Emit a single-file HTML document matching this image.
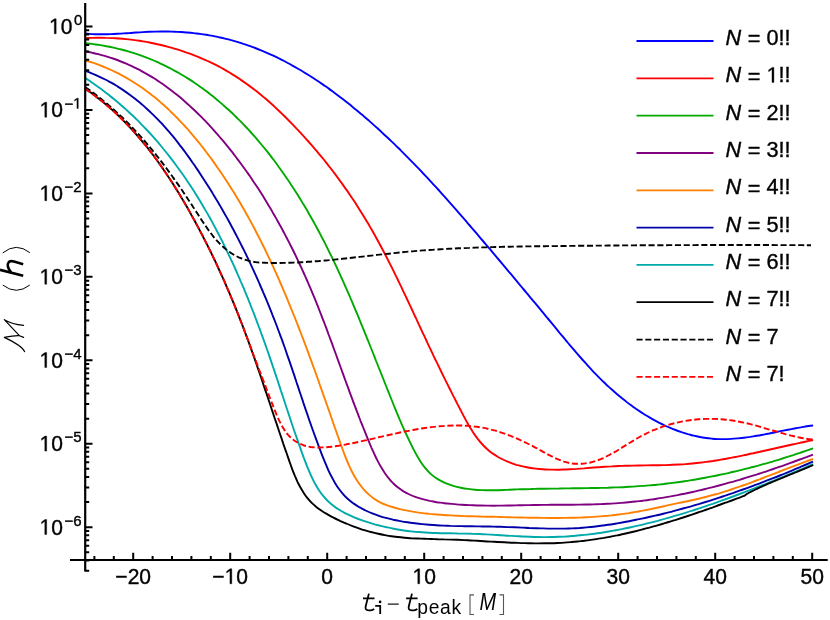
<!DOCTYPE html><html><head><meta charset="utf-8"><style>html,body{margin:0;padding:0;background:#fff}svg{display:block}.o{fill:none;stroke:none}text{font-family:"Liberation Sans",sans-serif;fill:#000;stroke:#000;stroke-width:0.4px}</style></head><body>
<svg width="830" height="620" viewBox="0 0 830 620">
<rect width="830" height="620" fill="#fff"/>
<g fill="none" stroke-width="1.9" stroke-linejoin="round">
<path d="M85.3,33.5C86.4,33.6 89.6,33.9 91.7,34.1C93.8,34.2 96.0,34.3 98.1,34.3C100.2,34.3 102.3,34.3 104.5,34.3C106.6,34.3 108.7,34.2 110.8,34.1C112.9,34.1 115.0,34.0 117.2,33.8C119.3,33.7 121.4,33.6 123.5,33.4C125.6,33.3 127.7,33.1 129.9,33.0C132.0,32.8 134.1,32.7 136.2,32.5C138.3,32.4 140.5,32.3 142.6,32.1C144.7,32.0 146.8,31.9 149.0,31.8C151.1,31.7 153.2,31.6 155.4,31.6C157.5,31.5 159.6,31.5 161.8,31.5C163.9,31.5 166.0,31.5 168.2,31.5C170.3,31.6 172.4,31.6 174.6,31.7C176.7,31.8 178.8,31.9 180.9,32.0C183.1,32.2 185.2,32.3 187.3,32.5C189.4,32.7 191.6,32.9 193.7,33.1C195.8,33.4 197.9,33.6 200.0,33.9C202.1,34.2 204.2,34.5 206.3,34.8C208.4,35.2 210.5,35.5 212.6,35.9C214.7,36.3 216.8,36.7 218.8,37.2C220.9,37.6 223.0,38.1 225.0,38.6C227.1,39.1 229.1,39.6 231.2,40.2C233.2,40.7 235.2,41.3 237.2,41.9C239.3,42.5 241.3,43.1 243.3,43.8C245.3,44.4 247.3,45.1 249.3,45.8C251.2,46.5 253.2,47.3 255.2,48.0C257.1,48.8 259.1,49.6 261.1,50.4C263.0,51.2 265.0,52.0 266.9,52.8C268.8,53.7 270.7,54.6 272.7,55.4C274.6,56.3 276.5,57.2 278.4,58.2C280.3,59.1 282.2,60.1 284.1,61.0C285.9,62.0 287.8,63.0 289.7,64.0C291.5,65.0 293.4,66.1 295.2,67.1C297.1,68.2 298.9,69.2 300.8,70.3C302.6,71.4 304.4,72.5 306.2,73.6C308.1,74.7 309.9,75.9 311.7,77.0C313.5,78.2 315.2,79.4 317.0,80.5C318.8,81.7 320.6,82.9 322.3,84.1C324.1,85.4 325.9,86.6 327.6,87.8C329.4,89.1 331.1,90.3 332.8,91.6C334.6,92.9 336.3,94.1 338.0,95.4C339.7,96.7 341.4,98.0 343.1,99.3C344.8,100.7 346.5,102.0 348.2,103.3C349.9,104.7 351.5,106.0 353.2,107.4C354.9,108.7 356.5,110.1 358.2,111.5C359.8,112.8 361.4,114.2 363.1,115.6C364.7,117.0 366.3,118.4 367.9,119.8C369.5,121.2 371.2,122.6 372.8,124.1C374.3,125.5 375.9,126.9 377.5,128.3C379.1,129.8 380.7,131.2 382.2,132.7C383.8,134.1 385.4,135.6 386.9,137.0C388.5,138.5 390.0,139.9 391.5,141.4C393.1,142.9 394.6,144.3 396.1,145.8C397.6,147.3 399.2,148.8 400.7,150.3C402.2,151.8 403.7,153.3 405.2,154.8C406.7,156.3 408.1,157.8 409.6,159.3C411.1,160.8 412.6,162.3 414.1,163.8C415.5,165.3 417.0,166.9 418.5,168.4C419.9,169.9 421.4,171.5 422.8,173.0C424.3,174.5 425.7,176.1 427.2,177.6C428.6,179.2 430.0,180.7 431.5,182.3C432.9,183.8 434.3,185.4 435.8,186.9C437.2,188.5 438.6,190.0 440.0,191.6C441.4,193.2 442.8,194.8 444.3,196.3C445.7,197.9 447.1,199.5 448.5,201.1C449.9,202.6 451.3,204.2 452.7,205.8C454.1,207.4 455.5,209.0 456.9,210.6C458.2,212.2 459.6,213.8 461.0,215.4C462.4,217.0 463.8,218.6 465.2,220.2C466.6,221.8 467.9,223.4 469.3,225.0C470.7,226.6 472.1,228.2 473.5,229.8C474.8,231.4 476.2,233.0 477.6,234.7C479.0,236.3 480.3,237.9 481.7,239.5C483.1,241.1 484.5,242.8 485.8,244.4C487.2,246.0 488.6,247.6 490.0,249.2C491.3,250.9 492.7,252.5 494.1,254.1C495.5,255.8 496.8,257.4 498.2,259.0C499.6,260.6 501.0,262.3 502.3,263.9C503.7,265.5 505.1,267.2 506.5,268.8C507.8,270.5 509.2,272.1 510.6,273.7C511.9,275.4 513.3,277.0 514.7,278.6C516.1,280.3 517.4,281.9 518.8,283.6C520.2,285.2 521.5,286.8 522.9,288.5C524.3,290.1 525.6,291.7 527.0,293.4C528.4,295.0 529.7,296.7 531.1,298.3C532.5,300.0 533.8,301.6 535.2,303.2C536.6,304.9 537.9,306.5 539.3,308.2C540.6,309.8 542.0,311.4 543.4,313.1C544.7,314.7 546.1,316.4 547.4,318.0C548.8,319.6 550.2,321.3 551.5,322.9C552.9,324.6 554.2,326.2 555.6,327.8C556.9,329.5 558.3,331.1 559.6,332.8C561.0,334.4 562.3,336.0 563.7,337.7C565.0,339.3 566.4,340.9 567.7,342.5C569.1,344.2 570.5,345.8 571.8,347.4C573.2,349.0 574.6,350.6 575.9,352.2C577.3,353.8 578.7,355.4 580.1,357.0C581.5,358.6 582.9,360.2 584.3,361.7C585.7,363.3 587.1,364.9 588.5,366.4C590.0,368.0 591.4,369.5 592.8,371.1C594.3,372.6 595.7,374.1 597.2,375.6C598.7,377.1 600.2,378.6 601.7,380.1C603.2,381.6 604.7,383.0 606.2,384.5C607.8,385.9 609.3,387.4 610.9,388.8C612.5,390.2 614.1,391.6 615.7,393.0C617.3,394.4 618.9,395.8 620.5,397.1C622.2,398.5 623.9,399.8 625.6,401.1C627.2,402.5 629.0,403.8 630.7,405.0C632.4,406.3 634.2,407.5 635.9,408.8C637.7,410.0 639.5,411.2 641.3,412.4C643.1,413.5 644.9,414.7 646.8,415.8C648.6,416.9 650.5,418.0 652.4,419.1C654.2,420.1 656.1,421.1 658.0,422.1C660.0,423.1 661.9,424.1 663.8,425.0C665.7,425.9 667.7,426.8 669.7,427.6C671.6,428.5 673.6,429.3 675.6,430.0C677.6,430.8 679.6,431.5 681.6,432.2C683.6,432.8 685.6,433.5 687.6,434.1C689.7,434.6 691.7,435.2 693.7,435.7C695.8,436.2 697.8,436.6 699.9,437.0C702.0,437.4 704.0,437.7 706.1,438.0C708.2,438.3 710.3,438.5 712.3,438.7C714.4,438.9 716.5,439.0 718.6,439.1C720.7,439.1 722.8,439.2 724.9,439.1C727.0,439.1 729.1,439.0 731.2,438.9C733.3,438.8 735.4,438.6 737.5,438.4C739.6,438.2 741.8,438.0 743.9,437.7C746.0,437.5 748.1,437.2 750.2,436.9C752.3,436.5 754.4,436.2 756.5,435.8C758.7,435.5 760.8,435.1 762.9,434.7C765.0,434.3 767.1,433.9 769.2,433.5C771.3,433.0 773.4,432.6 775.5,432.2C777.6,431.8 779.7,431.4 781.8,430.9C783.9,430.5 786.0,430.1 788.1,429.7C790.2,429.3 792.3,428.9 794.4,428.5C796.4,428.1 798.5,427.7 800.6,427.4C802.7,427.0 804.8,426.7 806.8,426.3C808.9,426.0 812.0,425.6 813.1,425.5" stroke="#0000ff"/>
<path d="M85.4,38.1C86.5,38.1 89.9,37.9 92.1,37.9C94.4,37.8 96.6,37.8 98.9,37.8C101.1,37.8 103.4,37.8 105.6,37.9C107.9,37.9 110.1,38.0 112.4,38.1C114.7,38.2 116.9,38.4 119.2,38.5C121.5,38.7 123.7,38.9 126.0,39.1C128.2,39.3 130.5,39.6 132.8,39.9C135.0,40.2 137.3,40.5 139.5,40.8C141.8,41.2 144.0,41.5 146.3,41.9C148.5,42.3 150.8,42.8 153.0,43.2C155.2,43.7 157.5,44.2 159.7,44.7C161.9,45.2 164.1,45.8 166.3,46.3C168.5,46.9 170.7,47.5 172.9,48.1C175.1,48.8 177.3,49.4 179.5,50.1C181.6,50.8 183.8,51.5 186.0,52.3C188.1,53.0 190.3,53.8 192.4,54.6C194.5,55.4 196.6,56.3 198.7,57.1C200.8,58.0 202.9,58.9 205.0,59.8C207.1,60.7 209.1,61.7 211.2,62.7C213.2,63.7 215.2,64.7 217.3,65.7C219.3,66.8 221.3,67.8 223.2,68.9C225.2,70.0 227.2,71.2 229.1,72.3C231.0,73.5 233.0,74.7 234.9,75.9C236.8,77.1 238.7,78.3 240.5,79.6C242.4,80.9 244.3,82.2 246.1,83.5C247.9,84.8 249.8,86.1 251.6,87.5C253.4,88.9 255.2,90.2 256.9,91.6C258.7,93.1 260.5,94.5 262.2,95.9C263.9,97.4 265.7,98.8 267.4,100.3C269.1,101.8 270.8,103.3 272.5,104.8C274.2,106.4 275.8,107.9 277.5,109.5C279.2,111.0 280.8,112.6 282.4,114.2C284.1,115.7 285.7,117.3 287.3,119.0C288.9,120.6 290.5,122.2 292.1,123.8C293.7,125.5 295.2,127.1 296.8,128.8C298.4,130.4 299.9,132.1 301.5,133.8C303.0,135.4 304.5,137.1 306.0,138.8C307.5,140.5 309.1,142.2 310.5,143.9C312.0,145.6 313.5,147.3 315.0,149.1C316.5,150.8 317.9,152.5 319.4,154.3C320.8,156.0 322.3,157.8 323.7,159.5C325.1,161.3 326.5,163.0 327.9,164.8C329.3,166.6 330.7,168.4 332.1,170.2C333.5,172.0 334.8,173.8 336.2,175.6C337.6,177.4 338.9,179.2 340.2,181.1C341.6,182.9 342.9,184.7 344.2,186.6C345.5,188.4 346.8,190.3 348.1,192.1C349.4,194.0 350.6,195.9 351.9,197.8C353.2,199.6 354.4,201.5 355.7,203.4C356.9,205.3 358.1,207.2 359.3,209.2C360.5,211.1 361.7,213.0 362.9,214.9C364.1,216.9 365.3,218.8 366.4,220.7C367.6,222.7 368.8,224.6 369.9,226.6C371.0,228.6 372.2,230.5 373.3,232.5C374.4,234.5 375.5,236.5 376.6,238.5C377.7,240.5 378.8,242.5 379.9,244.5C380.9,246.5 382.0,248.5 383.1,250.5C384.1,252.5 385.2,254.5 386.2,256.5C387.3,258.6 388.3,260.6 389.3,262.6C390.4,264.7 391.4,266.7 392.4,268.7C393.4,270.8 394.4,272.8 395.4,274.8C396.4,276.9 397.4,278.9 398.4,281.0C399.4,283.0 400.4,285.1 401.4,287.1C402.3,289.2 403.3,291.3 404.3,293.3C405.3,295.4 406.2,297.4 407.2,299.5C408.2,301.5 409.1,303.6 410.1,305.7C411.1,307.7 412.0,309.8 413.0,311.8C413.9,313.9 414.9,315.9 415.9,318.0C416.8,320.1 417.8,322.1 418.7,324.2C419.7,326.2 420.6,328.3 421.6,330.3C422.5,332.4 423.5,334.4 424.5,336.4C425.4,338.5 426.4,340.5 427.3,342.6C428.3,344.6 429.2,346.6 430.2,348.7C431.2,350.7 432.1,352.7 433.1,354.8C434.1,356.8 435.0,358.8 436.0,360.9C437.0,362.9 438.0,364.9 439.0,366.9C439.9,369.0 440.9,371.0 441.9,373.0C442.9,375.0 443.9,377.1 444.9,379.1C445.9,381.1 446.9,383.2 447.9,385.2C448.9,387.2 450.0,389.3 451.0,391.3C452.0,393.3 453.0,395.4 454.1,397.4C455.1,399.5 456.2,401.5 457.2,403.6C458.3,405.6 459.3,407.7 460.4,409.7C461.4,411.8 462.5,413.9 463.6,415.9C464.7,418.0 465.8,420.1 466.9,422.1C468.1,424.1 469.2,426.1 470.4,428.1C471.6,430.1 472.9,432.0 474.1,433.9C475.4,435.8 476.8,437.6 478.1,439.4C479.5,441.2 481.0,442.9 482.5,444.5C484.0,446.2 485.6,447.7 487.3,449.2C488.9,450.7 490.7,452.1 492.5,453.4C494.3,454.6 496.2,455.8 498.1,457.0C500.0,458.1 502.0,459.1 504.0,460.0C506.0,461.0 508.1,461.9 510.1,462.6C512.2,463.4 514.3,464.1 516.4,464.8C518.5,465.4 520.7,465.9 522.8,466.4C525.0,466.9 527.1,467.3 529.3,467.7C531.5,468.1 533.7,468.4 535.9,468.6C538.1,468.9 540.4,469.1 542.6,469.2C544.8,469.4 547.1,469.5 549.4,469.6C551.6,469.6 553.9,469.7 556.2,469.7C558.5,469.7 560.8,469.6 563.1,469.5C565.4,469.5 567.7,469.4 570.0,469.3C572.3,469.2 574.6,469.0 576.9,468.9C579.2,468.7 581.6,468.5 583.9,468.4C586.2,468.2 588.5,468.0 590.8,467.8C593.2,467.7 595.5,467.5 597.8,467.3C600.1,467.1 602.4,467.0 604.7,466.8C607.0,466.6 609.3,466.5 611.6,466.4C613.9,466.2 616.2,466.1 618.5,466.0C620.8,465.9 623.1,465.9 625.3,465.8C627.6,465.7 629.9,465.7 632.1,465.6C634.4,465.6 636.7,465.6 638.9,465.5C641.2,465.5 643.4,465.5 645.7,465.4C647.9,465.4 650.2,465.4 652.4,465.3C654.6,465.3 656.9,465.3 659.1,465.2C661.4,465.2 663.6,465.1 665.8,465.1C668.1,465.0 670.3,464.9 672.5,464.8C674.8,464.7 677.0,464.6 679.2,464.5C681.5,464.4 683.7,464.3 685.9,464.1C688.2,463.9 690.4,463.7 692.7,463.5C694.9,463.3 697.1,463.1 699.4,462.8C701.6,462.5 703.9,462.2 706.1,461.9C708.4,461.6 710.6,461.3 712.9,461.0C715.1,460.6 717.4,460.3 719.6,459.9C721.9,459.5 724.1,459.1 726.4,458.7C728.6,458.3 730.9,457.9 733.1,457.4C735.3,457.0 737.6,456.6 739.8,456.1C742.1,455.6 744.3,455.2 746.6,454.7C748.8,454.2 751.1,453.7 753.3,453.3C755.5,452.8 757.8,452.3 760.0,451.8C762.2,451.3 764.5,450.8 766.7,450.3C768.9,449.8 771.2,449.3 773.4,448.8C775.6,448.3 777.8,447.8 780.0,447.3C782.3,446.8 784.5,446.3 786.7,445.8C788.9,445.3 791.1,444.8 793.3,444.3C795.5,443.8 797.7,443.4 799.9,442.9C802.1,442.4 804.3,442.0 806.4,441.5C808.6,441.1 811.9,440.5 813.0,440.2" stroke="#ff0000"/>
<path d="M84.4,43.1C85.6,43.3 89.3,43.6 91.8,43.9C94.3,44.2 96.7,44.6 99.1,44.9C101.5,45.3 103.9,45.7 106.3,46.2C108.7,46.6 111.1,47.1 113.4,47.6C115.8,48.1 118.1,48.7 120.4,49.3C122.7,49.8 125.0,50.5 127.3,51.1C129.5,51.8 131.8,52.5 134.0,53.2C136.3,53.9 138.5,54.6 140.7,55.4C142.9,56.2 145.1,57.0 147.3,57.9C149.4,58.7 151.6,59.6 153.7,60.5C155.8,61.4 157.9,62.4 160.0,63.3C162.1,64.3 164.2,65.3 166.3,66.3C168.3,67.3 170.4,68.4 172.4,69.5C174.4,70.6 176.5,71.7 178.4,72.8C180.4,73.9 182.4,75.1 184.4,76.3C186.3,77.5 188.3,78.7 190.2,79.9C192.1,81.2 194.1,82.5 195.9,83.7C197.8,85.0 199.7,86.4 201.6,87.7C203.4,89.0 205.3,90.4 207.1,91.8C208.9,93.2 210.8,94.6 212.6,96.0C214.4,97.5 216.1,98.9 217.9,100.4C219.7,101.9 221.4,103.4 223.1,104.9C224.9,106.4 226.6,108.0 228.3,109.5C230.0,111.1 231.7,112.7 233.4,114.3C235.0,115.9 236.7,117.5 238.3,119.1C240.0,120.7 241.6,122.4 243.2,124.1C244.8,125.8 246.4,127.4 248.0,129.2C249.6,130.9 251.1,132.6 252.7,134.3C254.2,136.1 255.8,137.8 257.3,139.6C258.8,141.4 260.3,143.2 261.8,145.0C263.3,146.8 264.8,148.6 266.3,150.4C267.7,152.2 269.2,154.1 270.6,155.9C272.0,157.8 273.5,159.7 274.9,161.5C276.3,163.4 277.7,165.3 279.0,167.2C280.4,169.1 281.8,171.0 283.1,173.0C284.5,174.9 285.8,176.8 287.1,178.8C288.5,180.7 289.8,182.7 291.1,184.7C292.4,186.6 293.7,188.6 294.9,190.6C296.2,192.6 297.5,194.5 298.7,196.5C299.9,198.5 301.2,200.5 302.4,202.6C303.6,204.6 304.8,206.6 306.0,208.6C307.2,210.6 308.4,212.7 309.5,214.7C310.7,216.7 311.8,218.8 313.0,220.8C314.1,222.9 315.3,224.9 316.4,227.0C317.5,229.0 318.6,231.1 319.7,233.1C320.8,235.2 321.8,237.3 322.9,239.3C324.0,241.4 325.0,243.5 326.1,245.6C327.1,247.6 328.2,249.7 329.2,251.8C330.2,253.9 331.3,256.0 332.3,258.1C333.3,260.1 334.3,262.2 335.3,264.3C336.3,266.4 337.2,268.5 338.2,270.6C339.2,272.7 340.2,274.8 341.1,277.0C342.1,279.1 343.0,281.2 344.0,283.3C344.9,285.4 345.8,287.5 346.8,289.7C347.7,291.8 348.6,293.9 349.6,296.0C350.5,298.2 351.4,300.3 352.3,302.4C353.2,304.5 354.1,306.7 355.0,308.8C355.9,311.0 356.8,313.1 357.7,315.2C358.6,317.4 359.5,319.5 360.3,321.7C361.2,323.8 362.1,326.0 363.0,328.1C363.8,330.3 364.7,332.4 365.6,334.6C366.5,336.7 367.3,338.9 368.2,341.0C369.1,343.2 369.9,345.3 370.8,347.5C371.6,349.6 372.5,351.8 373.4,354.0C374.2,356.1 375.1,358.3 375.9,360.5C376.8,362.6 377.7,364.8 378.5,367.0C379.4,369.1 380.2,371.3 381.1,373.5C382.0,375.6 382.8,377.8 383.7,380.0C384.5,382.1 385.4,384.3 386.3,386.5C387.1,388.7 388.0,390.8 388.9,393.0C389.7,395.2 390.6,397.4 391.5,399.5C392.4,401.7 393.3,403.9 394.1,406.1C395.0,408.2 395.9,410.4 396.8,412.6C397.7,414.7 398.6,416.9 399.5,419.1C400.5,421.2 401.4,423.4 402.3,425.6C403.3,427.7 404.2,429.9 405.2,432.0C406.2,434.2 407.2,436.3 408.2,438.4C409.2,440.6 410.2,442.7 411.3,444.8C412.3,446.9 413.4,449.0 414.5,451.1C415.6,453.2 416.7,455.3 417.9,457.3C419.1,459.4 420.3,461.4 421.6,463.3C422.9,465.2 424.3,467.0 425.7,468.7C427.2,470.5 428.7,472.1 430.4,473.6C432.0,475.1 433.8,476.5 435.6,477.7C437.4,479.0 439.4,480.1 441.4,481.1C443.4,482.2 445.4,483.1 447.6,483.9C449.7,484.7 451.9,485.4 454.1,486.1C456.3,486.7 458.6,487.2 460.9,487.7C463.2,488.2 465.5,488.6 467.8,488.9C470.1,489.2 472.5,489.5 474.8,489.7C477.1,489.9 479.5,490.0 481.8,490.1C484.2,490.2 486.5,490.3 488.9,490.3C491.2,490.3 493.5,490.3 495.9,490.2C498.3,490.2 500.6,490.1 503.0,490.0C505.3,489.9 507.7,489.8 510.0,489.7C512.4,489.6 514.7,489.5 517.1,489.4C519.4,489.3 521.8,489.3 524.1,489.2C526.5,489.1 528.8,489.0 531.2,489.0C533.5,488.9 535.8,488.9 538.2,488.8C540.5,488.8 542.9,488.7 545.2,488.7C547.6,488.6 549.9,488.6 552.2,488.6C554.6,488.5 556.9,488.5 559.2,488.5C561.6,488.4 563.9,488.4 566.2,488.4C568.6,488.4 570.9,488.3 573.2,488.3C575.6,488.3 577.9,488.3 580.2,488.2C582.6,488.2 584.9,488.2 587.2,488.1C589.5,488.1 591.9,488.0 594.2,488.0C596.5,488.0 598.8,487.9 601.2,487.9C603.5,487.8 605.8,487.7 608.1,487.7C610.4,487.6 612.8,487.5 615.1,487.4C617.4,487.4 619.7,487.3 622.0,487.2C624.4,487.1 626.7,486.9 629.0,486.8C631.3,486.7 633.6,486.6 635.9,486.4C638.3,486.3 640.6,486.1 642.9,485.9C645.2,485.7 647.5,485.6 649.8,485.4C652.2,485.2 654.5,484.9 656.8,484.7C659.1,484.5 661.4,484.2 663.7,484.0C666.0,483.7 668.3,483.4 670.6,483.1C673.0,482.8 675.3,482.5 677.6,482.2C679.9,481.9 682.2,481.6 684.5,481.2C686.8,480.9 689.1,480.5 691.4,480.1C693.7,479.8 696.0,479.4 698.3,479.0C700.6,478.6 702.9,478.2 705.2,477.7C707.5,477.3 709.8,476.9 712.1,476.4C714.4,476.0 716.6,475.5 718.9,475.0C721.2,474.6 723.5,474.1 725.8,473.6C728.1,473.1 730.3,472.5 732.6,472.0C734.9,471.5 737.2,471.0 739.4,470.4C741.7,469.9 744.0,469.3 746.2,468.7C748.5,468.1 750.7,467.6 753.0,467.0C755.3,466.4 757.5,465.8 759.8,465.1C762.0,464.5 764.3,463.9 766.5,463.3C768.7,462.6 771.0,462.0 773.2,461.3C775.4,460.6 777.7,460.0 779.9,459.3C782.1,458.6 784.4,457.9 786.6,457.2C788.8,456.5 791.0,455.8 793.2,455.1C795.4,454.3 797.6,453.6 799.8,452.9C802.0,452.1 804.2,451.4 806.4,450.6C808.6,449.8 811.9,448.7 813.0,448.3" stroke="#00aa00"/>
<path d="M84.7,51.2C85.9,51.5 89.6,52.1 92.0,52.7C94.4,53.2 96.8,53.7 99.2,54.3C101.5,55.0 103.9,55.6 106.2,56.3C108.5,57.0 110.8,57.7 113.0,58.5C115.3,59.3 117.5,60.1 119.7,61.0C122.0,61.8 124.1,62.7 126.3,63.7C128.5,64.6 130.6,65.6 132.8,66.6C134.9,67.6 137.0,68.7 139.1,69.7C141.1,70.8 143.2,71.9 145.2,73.1C147.3,74.2 149.3,75.4 151.3,76.6C153.3,77.9 155.3,79.1 157.2,80.4C159.2,81.7 161.1,83.0 163.0,84.3C164.9,85.6 166.8,87.0 168.7,88.4C170.6,89.8 172.5,91.2 174.3,92.7C176.1,94.1 177.9,95.6 179.8,97.1C181.6,98.6 183.3,100.1 185.1,101.7C186.9,103.2 188.6,104.8 190.3,106.4C192.1,107.9 193.8,109.6 195.5,111.2C197.2,112.8 198.9,114.5 200.5,116.1C202.2,117.8 203.8,119.5 205.5,121.2C207.1,122.9 208.7,124.6 210.3,126.4C211.9,128.1 213.5,129.9 215.0,131.6C216.6,133.4 218.2,135.2 219.7,137.0C221.2,138.8 222.8,140.6 224.3,142.4C225.8,144.2 227.3,146.0 228.8,147.9C230.3,149.7 231.7,151.6 233.2,153.4C234.6,155.3 236.1,157.2 237.5,159.1C238.9,161.0 240.3,162.9 241.7,164.8C243.1,166.7 244.5,168.6 245.9,170.5C247.3,172.4 248.6,174.4 250.0,176.3C251.3,178.3 252.6,180.2 253.9,182.2C255.3,184.2 256.6,186.2 257.9,188.1C259.2,190.1 260.4,192.1 261.7,194.1C263.0,196.1 264.2,198.1 265.5,200.2C266.7,202.2 267.9,204.2 269.1,206.3C270.4,208.3 271.6,210.3 272.7,212.4C273.9,214.4 275.1,216.5 276.3,218.6C277.4,220.6 278.6,222.7 279.7,224.8C280.9,226.8 282.0,228.9 283.1,231.0C284.2,233.1 285.4,235.2 286.4,237.3C287.5,239.4 288.6,241.5 289.7,243.6C290.8,245.8 291.8,247.9 292.9,250.0C293.9,252.1 295.0,254.2 296.0,256.4C297.0,258.5 298.0,260.6 299.0,262.8C300.0,264.9 301.0,267.1 302.0,269.2C303.0,271.4 304.0,273.5 304.9,275.7C305.9,277.8 306.8,280.0 307.8,282.2C308.7,284.3 309.6,286.5 310.6,288.6C311.5,290.8 312.4,293.0 313.3,295.2C314.2,297.3 315.1,299.5 316.0,301.7C316.8,303.8 317.7,306.0 318.6,308.2C319.4,310.4 320.3,312.6 321.2,314.8C322.0,316.9 322.8,319.1 323.7,321.3C324.5,323.5 325.3,325.7 326.2,327.9C327.0,330.1 327.8,332.3 328.6,334.5C329.5,336.7 330.3,338.9 331.1,341.1C331.9,343.2 332.7,345.4 333.5,347.7C334.3,349.9 335.1,352.1 335.9,354.3C336.7,356.5 337.5,358.7 338.3,360.9C339.1,363.1 339.9,365.3 340.7,367.5C341.5,369.7 342.3,371.9 343.1,374.1C343.9,376.4 344.7,378.6 345.5,380.8C346.3,383.0 347.2,385.2 348.0,387.4C348.8,389.7 349.6,391.9 350.4,394.1C351.2,396.3 352.1,398.6 352.9,400.8C353.7,403.0 354.6,405.2 355.4,407.4C356.2,409.7 357.1,411.9 358.0,414.1C358.8,416.4 359.7,418.6 360.5,420.8C361.4,423.0 362.3,425.3 363.2,427.5C364.1,429.7 365.0,432.0 365.9,434.2C366.8,436.4 367.7,438.7 368.6,440.9C369.5,443.1 370.5,445.4 371.4,447.6C372.4,449.8 373.4,452.0 374.4,454.2C375.4,456.3 376.4,458.5 377.5,460.6C378.6,462.7 379.7,464.8 380.9,466.8C382.1,468.8 383.3,470.8 384.6,472.7C385.9,474.6 387.2,476.4 388.6,478.2C390.1,479.9 391.5,481.6 393.1,483.2C394.7,484.7 396.3,486.2 398.1,487.6C399.8,488.9 401.6,490.2 403.5,491.4C405.4,492.5 407.4,493.6 409.5,494.5C411.6,495.5 413.7,496.3 415.9,497.1C418.1,497.9 420.4,498.6 422.7,499.2C425.0,499.8 427.3,500.4 429.7,500.9C432.1,501.3 434.5,501.8 436.9,502.2C439.3,502.5 441.7,502.9 444.2,503.2C446.6,503.5 449.0,503.7 451.5,503.9C453.9,504.2 456.3,504.4 458.7,504.6C461.1,504.7 463.5,504.9 465.9,505.0C468.3,505.1 470.7,505.2 473.1,505.3C475.5,505.4 477.9,505.5 480.2,505.5C482.6,505.6 485.0,505.6 487.3,505.6C489.7,505.7 492.1,505.7 494.4,505.7C496.8,505.7 499.1,505.6 501.5,505.6C503.8,505.6 506.2,505.6 508.5,505.5C510.9,505.5 513.2,505.4 515.6,505.4C517.9,505.3 520.3,505.3 522.6,505.2C524.9,505.2 527.3,505.1 529.6,505.1C532.0,505.1 534.3,505.0 536.7,505.0C539.0,504.9 541.4,504.9 543.7,504.9C546.1,504.9 548.4,504.8 550.8,504.8C553.1,504.8 555.5,504.8 557.8,504.8C560.2,504.8 562.5,504.8 564.9,504.7C567.3,504.7 569.6,504.7 572.0,504.7C574.3,504.7 576.7,504.7 579.1,504.6C581.4,504.6 583.8,504.6 586.1,504.5C588.5,504.5 590.9,504.4 593.2,504.4C595.6,504.3 597.9,504.2 600.3,504.1C602.7,504.0 605.0,503.9 607.4,503.8C609.7,503.7 612.1,503.6 614.4,503.4C616.8,503.2 619.1,503.1 621.5,502.9C623.8,502.7 626.2,502.5 628.5,502.2C630.9,502.0 633.2,501.8 635.6,501.5C637.9,501.2 640.2,501.0 642.6,500.7C644.9,500.4 647.3,500.1 649.6,499.7C651.9,499.4 654.3,499.1 656.6,498.7C658.9,498.3 661.3,498.0 663.6,497.6C665.9,497.2 668.2,496.8 670.6,496.4C672.9,495.9 675.2,495.5 677.5,495.1C679.8,494.6 682.2,494.1 684.5,493.7C686.8,493.2 689.1,492.7 691.4,492.2C693.7,491.7 696.0,491.2 698.3,490.6C700.6,490.1 702.9,489.6 705.2,489.0C707.5,488.4 709.8,487.9 712.1,487.3C714.4,486.7 716.7,486.1 719.0,485.5C721.2,484.9 723.5,484.3 725.8,483.7C728.1,483.0 730.4,482.4 732.6,481.8C734.9,481.1 737.2,480.4 739.5,479.8C741.7,479.1 744.0,478.4 746.2,477.7C748.5,477.0 750.8,476.3 753.0,475.6C755.3,474.9 757.5,474.2 759.8,473.5C762.0,472.8 764.3,472.0 766.5,471.3C768.7,470.5 771.0,469.8 773.2,469.0C775.4,468.3 777.7,467.5 779.9,466.7C782.1,465.9 784.4,465.2 786.6,464.4C788.8,463.6 791.0,462.8 793.2,462.0C795.4,461.2 797.6,460.4 799.8,459.5C802.0,458.7 804.2,457.9 806.4,457.1C808.6,456.2 811.9,455.0 813.0,454.6" stroke="#800080"/>
<path d="M84.8,60.3C86.0,60.6 89.6,61.7 91.9,62.4C94.3,63.2 96.6,64.0 98.9,64.9C101.2,65.8 103.4,66.7 105.7,67.6C107.9,68.5 110.1,69.5 112.3,70.5C114.5,71.6 116.6,72.6 118.8,73.7C120.9,74.8 123.0,76.0 125.1,77.1C127.2,78.3 129.2,79.5 131.2,80.7C133.3,82.0 135.3,83.2 137.2,84.5C139.2,85.8 141.2,87.2 143.1,88.5C145.0,89.9 146.9,91.3 148.8,92.7C150.7,94.2 152.5,95.6 154.4,97.1C156.2,98.6 158.0,100.1 159.8,101.6C161.6,103.2 163.4,104.7 165.1,106.3C166.9,107.9 168.6,109.5 170.3,111.2C172.0,112.8 173.7,114.5 175.4,116.2C177.1,117.8 178.7,119.5 180.3,121.3C182.0,123.0 183.6,124.7 185.2,126.5C186.8,128.3 188.4,130.0 189.9,131.8C191.5,133.6 193.0,135.5 194.5,137.3C196.1,139.1 197.6,141.0 199.1,142.8C200.5,144.7 202.0,146.6 203.5,148.4C204.9,150.3 206.4,152.2 207.8,154.1C209.2,156.0 210.7,158.0 212.1,159.9C213.5,161.8 214.9,163.8 216.2,165.7C217.6,167.7 219.0,169.6 220.3,171.6C221.6,173.6 223.0,175.5 224.3,177.5C225.6,179.5 226.9,181.5 228.2,183.5C229.5,185.5 230.8,187.6 232.0,189.6C233.3,191.6 234.6,193.6 235.8,195.7C237.0,197.7 238.3,199.8 239.5,201.8C240.7,203.9 241.9,205.9 243.1,208.0C244.3,210.1 245.5,212.2 246.6,214.2C247.8,216.3 248.9,218.4 250.1,220.5C251.2,222.6 252.4,224.7 253.5,226.8C254.6,229.0 255.7,231.1 256.8,233.2C257.9,235.3 259.0,237.4 260.1,239.6C261.2,241.7 262.2,243.9 263.3,246.0C264.4,248.1 265.4,250.3 266.4,252.4C267.5,254.6 268.5,256.8 269.5,258.9C270.5,261.1 271.6,263.2 272.6,265.4C273.6,267.6 274.5,269.8 275.5,271.9C276.5,274.1 277.5,276.3 278.5,278.5C279.4,280.7 280.4,282.8 281.3,285.0C282.3,287.2 283.2,289.4 284.1,291.6C285.1,293.8 286.0,296.0 286.9,298.2C287.8,300.4 288.7,302.6 289.6,304.8C290.5,307.0 291.4,309.2 292.3,311.4C293.2,313.6 294.1,315.8 295.0,318.0C295.8,320.2 296.7,322.4 297.6,324.6C298.4,326.8 299.3,329.0 300.1,331.2C301.0,333.4 301.8,335.6 302.7,337.8C303.5,340.0 304.4,342.2 305.2,344.5C306.0,346.7 306.8,348.9 307.7,351.1C308.5,353.3 309.3,355.5 310.1,357.8C310.9,360.0 311.7,362.2 312.5,364.4C313.3,366.6 314.2,368.9 315.0,371.1C315.8,373.3 316.6,375.6 317.4,377.8C318.2,380.0 319.0,382.3 319.7,384.5C320.5,386.7 321.3,389.0 322.1,391.2C322.9,393.5 323.7,395.7 324.5,398.0C325.3,400.2 326.1,402.5 326.9,404.7C327.7,407.0 328.5,409.3 329.3,411.5C330.1,413.8 330.8,416.1 331.6,418.3C332.4,420.6 333.2,422.9 334.0,425.2C334.8,427.4 335.6,429.7 336.4,432.0C337.2,434.3 338.0,436.6 338.9,438.9C339.7,441.2 340.5,443.5 341.3,445.8C342.1,448.1 343.0,450.4 343.8,452.7C344.7,455.0 345.5,457.2 346.5,459.5C347.4,461.7 348.3,463.9 349.3,466.1C350.3,468.3 351.3,470.4 352.4,472.5C353.5,474.6 354.6,476.6 355.8,478.6C357.0,480.6 358.3,482.5 359.6,484.3C361.0,486.2 362.4,487.9 363.9,489.6C365.4,491.3 367.0,492.9 368.7,494.4C370.4,495.9 372.2,497.4 374.1,498.7C376.0,500.0 378.0,501.2 380.1,502.3C382.2,503.3 384.4,504.3 386.7,505.2C389.0,506.1 391.5,506.8 393.9,507.5C396.3,508.2 398.8,508.8 401.2,509.4C403.7,510.0 406.1,510.4 408.5,510.9C411.0,511.3 413.4,511.7 415.7,512.1C418.1,512.5 420.4,512.8 422.7,513.1C425.1,513.4 427.4,513.6 429.7,513.9C432.0,514.1 434.3,514.3 436.6,514.5C438.9,514.7 441.2,514.9 443.6,515.0C445.9,515.2 448.2,515.3 450.6,515.4C452.9,515.6 455.3,515.7 457.6,515.8C460.0,515.9 462.4,516.0 464.7,516.1C467.1,516.2 469.5,516.2 471.9,516.3C474.3,516.4 476.6,516.4 479.0,516.5C481.4,516.6 483.8,516.6 486.2,516.7C488.6,516.7 491.0,516.8 493.4,516.8C495.8,516.9 498.2,516.9 500.5,517.0C502.9,517.1 505.3,517.1 507.7,517.2C510.1,517.2 512.5,517.3 514.9,517.4C517.3,517.4 519.7,517.5 522.1,517.5C524.5,517.6 526.8,517.6 529.2,517.7C531.6,517.7 534.0,517.8 536.4,517.8C538.8,517.9 541.1,517.9 543.5,517.9C545.9,518.0 548.3,518.0 550.7,518.0C553.1,518.0 555.4,518.0 557.8,518.0C560.2,518.0 562.6,518.0 565.0,517.9C567.3,517.9 569.7,517.9 572.1,517.8C574.5,517.8 576.8,517.7 579.2,517.6C581.6,517.5 583.9,517.4 586.3,517.3C588.7,517.2 591.1,517.1 593.4,516.9C595.8,516.8 598.2,516.6 600.5,516.4C602.9,516.2 605.3,516.0 607.6,515.8C610.0,515.5 612.3,515.3 614.7,515.0C617.1,514.7 619.4,514.4 621.8,514.1C624.1,513.8 626.5,513.4 628.8,513.1C631.2,512.7 633.5,512.3 635.9,511.9C638.2,511.5 640.6,511.0 642.9,510.6C645.3,510.1 647.6,509.6 650.0,509.2C652.3,508.7 654.7,508.2 657.0,507.7C659.3,507.2 661.7,506.7 664.0,506.2C666.3,505.7 668.7,505.1 671.0,504.6C673.3,504.1 675.6,503.6 677.9,503.1C680.2,502.7 682.6,502.2 684.9,501.7C687.2,501.2 689.5,500.8 691.8,500.3C694.1,499.8 696.3,499.2 698.6,498.7C700.9,498.2 703.2,497.6 705.5,497.0C707.8,496.4 710.1,495.8 712.3,495.2C714.6,494.6 716.9,493.9 719.2,493.3C721.4,492.6 723.7,491.9 726.0,491.2C728.2,490.5 730.5,489.8 732.7,489.0C735.0,488.3 737.2,487.5 739.5,486.7C741.7,485.9 744.0,485.1 746.2,484.3C748.5,483.5 750.7,482.7 753.0,481.8C755.2,481.0 757.4,480.1 759.7,479.3C761.9,478.4 764.2,477.6 766.4,476.7C768.6,475.9 770.8,475.0 773.1,474.1C775.3,473.3 777.5,472.4 779.8,471.5C782.0,470.6 784.2,469.8 786.4,468.9C788.7,468.1 790.9,467.2 793.1,466.3C795.3,465.5 797.6,464.6 799.8,463.8C802.0,463.0 804.2,462.2 806.4,461.3C808.7,460.5 812.0,459.4 813.1,459.0" stroke="#ff8000"/>
<path d="M84.8,70.6C86.0,71.0 89.5,72.3 91.8,73.3C94.1,74.2 96.4,75.2 98.6,76.3C100.9,77.3 103.1,78.4 105.2,79.5C107.4,80.6 109.5,81.8 111.6,82.9C113.7,84.1 115.8,85.4 117.8,86.6C119.9,87.9 121.9,89.2 123.9,90.6C125.8,91.9 127.8,93.3 129.7,94.7C131.6,96.1 133.5,97.5 135.4,99.0C137.2,100.5 139.1,102.0 140.9,103.5C142.7,105.1 144.5,106.6 146.2,108.2C148.0,109.8 149.7,111.4 151.4,113.1C153.1,114.7 154.8,116.4 156.5,118.1C158.1,119.8 159.8,121.5 161.4,123.2C163.0,125.0 164.6,126.7 166.2,128.5C167.7,130.3 169.3,132.1 170.8,133.9C172.4,135.7 173.9,137.6 175.4,139.4C176.9,141.3 178.4,143.2 179.8,145.1C181.3,147.0 182.7,148.9 184.2,150.8C185.6,152.7 187.0,154.7 188.4,156.6C189.8,158.5 191.2,160.5 192.5,162.5C193.9,164.4 195.3,166.4 196.6,168.4C198.0,170.4 199.3,172.4 200.6,174.4C201.9,176.4 203.2,178.4 204.5,180.4C205.8,182.4 207.1,184.5 208.4,186.5C209.7,188.5 210.9,190.6 212.2,192.6C213.4,194.7 214.7,196.7 215.9,198.8C217.1,200.8 218.4,202.9 219.6,204.9C220.8,207.0 222.0,209.1 223.2,211.2C224.3,213.2 225.5,215.3 226.7,217.4C227.9,219.5 229.0,221.6 230.2,223.7C231.3,225.8 232.4,227.9 233.6,230.0C234.7,232.1 235.8,234.3 236.9,236.4C238.0,238.5 239.1,240.6 240.2,242.8C241.3,244.9 242.3,247.0 243.4,249.2C244.5,251.3 245.5,253.5 246.6,255.6C247.6,257.8 248.6,259.9 249.7,262.1C250.7,264.3 251.7,266.4 252.7,268.6C253.7,270.8 254.7,273.0 255.7,275.1C256.7,277.3 257.7,279.5 258.6,281.7C259.6,283.9 260.5,286.1 261.5,288.3C262.4,290.5 263.4,292.7 264.3,294.9C265.2,297.1 266.2,299.3 267.1,301.5C268.0,303.7 268.9,305.9 269.8,308.1C270.7,310.3 271.6,312.6 272.4,314.8C273.3,317.0 274.2,319.2 275.1,321.5C275.9,323.7 276.8,325.9 277.6,328.2C278.4,330.4 279.3,332.6 280.1,334.9C280.9,337.1 281.8,339.3 282.6,341.6C283.4,343.8 284.2,346.1 285.0,348.3C285.8,350.6 286.5,352.8 287.3,355.1C288.1,357.3 288.9,359.6 289.7,361.9C290.4,364.1 291.2,366.4 292.0,368.6C292.7,370.9 293.5,373.2 294.3,375.4C295.0,377.7 295.8,380.0 296.5,382.2C297.3,384.5 298.0,386.8 298.8,389.0C299.5,391.3 300.3,393.6 301.1,395.8C301.8,398.1 302.6,400.4 303.3,402.6C304.1,404.9 304.9,407.2 305.6,409.4C306.4,411.7 307.2,414.0 308.0,416.2C308.7,418.5 309.5,420.8 310.3,423.0C311.1,425.3 311.9,427.6 312.7,429.8C313.5,432.1 314.3,434.4 315.2,436.6C316.0,438.9 316.8,441.1 317.7,443.4C318.5,445.7 319.3,447.9 320.2,450.2C321.1,452.4 321.9,454.7 322.8,456.9C323.7,459.2 324.6,461.4 325.6,463.7C326.5,465.9 327.4,468.1 328.4,470.3C329.4,472.5 330.5,474.6 331.6,476.7C332.6,478.8 333.8,480.9 335.0,482.9C336.2,484.9 337.5,486.9 338.8,488.7C340.2,490.6 341.6,492.4 343.1,494.1C344.6,495.9 346.2,497.5 347.9,499.0C349.7,500.6 351.5,502.0 353.4,503.4C355.3,504.7 357.3,506.0 359.3,507.2C361.3,508.3 363.5,509.4 365.6,510.5C367.8,511.5 370.0,512.5 372.2,513.3C374.4,514.2 376.7,515.0 379.0,515.8C381.3,516.6 383.6,517.3 386.0,517.9C388.3,518.5 390.7,519.1 393.1,519.7C395.5,520.2 397.9,520.7 400.3,521.1C402.7,521.6 405.1,522.0 407.5,522.3C410.0,522.7 412.4,523.0 414.8,523.3C417.2,523.6 419.6,523.9 422.1,524.1C424.5,524.3 426.9,524.5 429.3,524.7C431.7,524.9 434.1,525.1 436.4,525.2C438.8,525.4 441.2,525.5 443.6,525.6C446.0,525.7 448.3,525.8 450.7,525.9C453.1,525.9 455.5,526.0 457.8,526.1C460.2,526.1 462.6,526.2 464.9,526.2C467.3,526.2 469.6,526.3 472.0,526.3C474.4,526.3 476.7,526.4 479.1,526.4C481.5,526.4 483.8,526.5 486.2,526.5C488.6,526.5 490.9,526.6 493.3,526.6C495.7,526.7 498.0,526.7 500.4,526.8C502.8,526.9 505.2,527.0 507.5,527.1C509.9,527.1 512.3,527.2 514.7,527.3C517.1,527.4 519.5,527.5 521.9,527.6C524.3,527.7 526.7,527.9 529.1,528.0C531.5,528.0 533.9,528.1 536.3,528.2C538.7,528.3 541.1,528.4 543.5,528.4C545.9,528.5 548.3,528.6 550.7,528.6C553.1,528.6 555.5,528.6 557.9,528.6C560.3,528.6 562.7,528.6 565.1,528.6C567.4,528.5 569.8,528.5 572.2,528.4C574.6,528.3 577.0,528.1 579.4,528.0C581.8,527.8 584.2,527.6 586.6,527.4C589.0,527.2 591.3,527.0 593.7,526.7C596.1,526.4 598.5,526.1 600.8,525.8C603.2,525.5 605.6,525.2 608.0,524.8C610.3,524.5 612.7,524.1 615.1,523.7C617.4,523.3 619.8,522.9 622.1,522.5C624.5,522.1 626.8,521.7 629.2,521.2C631.5,520.8 633.9,520.3 636.2,519.8C638.6,519.3 640.9,518.9 643.2,518.4C645.6,517.9 647.9,517.3 650.2,516.8C652.6,516.3 654.9,515.8 657.2,515.2C659.5,514.7 661.9,514.1 664.2,513.5C666.5,512.9 668.8,512.4 671.1,511.8C673.4,511.2 675.7,510.6 678.0,509.9C680.3,509.3 682.6,508.7 684.9,508.0C687.2,507.4 689.5,506.7 691.8,506.1C694.1,505.4 696.4,504.7 698.7,504.1C701.0,503.4 703.3,502.7 705.5,502.0C707.8,501.3 710.1,500.6 712.4,499.8C714.6,499.1 716.9,498.4 719.2,497.6C721.5,496.9 723.7,496.1 726.0,495.4C728.2,494.6 730.5,493.8 732.8,493.1C735.0,492.3 737.3,491.5 739.5,490.7C741.8,489.9 744.0,489.1 746.3,488.3C748.5,487.5 750.8,486.6 753.0,485.8C755.3,485.0 757.5,484.1 759.7,483.3C762.0,482.4 764.2,481.6 766.4,480.7C768.7,479.9 770.9,479.0 773.1,478.1C775.3,477.3 777.6,476.4 779.8,475.5C782.0,474.6 784.2,473.7 786.5,472.8C788.7,471.9 790.9,471.0 793.1,470.1C795.3,469.2 797.5,468.2 799.7,467.3C801.9,466.4 804.1,465.4 806.3,464.5C808.6,463.6 811.9,462.2 813.0,461.7" stroke="#0000aa"/>
<path d="M85.8,78.4C86.8,79.1 89.9,81.1 91.9,82.5C93.9,83.9 95.9,85.3 97.9,86.7C99.8,88.1 101.8,89.6 103.7,91.0C105.6,92.5 107.6,94.0 109.5,95.5C111.3,97.0 113.2,98.5 115.1,100.0C116.9,101.5 118.8,103.1 120.6,104.7C122.4,106.2 124.2,107.8 126.0,109.4C127.7,111.0 129.5,112.6 131.2,114.3C133.0,115.9 134.7,117.6 136.4,119.2C138.1,120.9 139.8,122.6 141.4,124.3C143.1,126.0 144.8,127.7 146.4,129.5C148.0,131.2 149.6,132.9 151.2,134.7C152.8,136.5 154.4,138.3 156.0,140.0C157.5,141.8 159.1,143.6 160.6,145.5C162.1,147.3 163.6,149.1 165.1,151.0C166.6,152.8 168.1,154.7 169.6,156.6C171.0,158.4 172.5,160.3 173.9,162.2C175.3,164.1 176.7,166.0 178.1,168.0C179.5,169.9 180.9,171.8 182.3,173.8C183.7,175.7 185.0,177.7 186.4,179.7C187.7,181.6 189.0,183.6 190.3,185.6C191.6,187.6 192.9,189.6 194.2,191.6C195.5,193.7 196.8,195.7 198.0,197.7C199.3,199.8 200.5,201.8 201.8,203.9C203.0,205.9 204.2,208.0 205.4,210.1C206.6,212.1 207.8,214.2 209.0,216.3C210.1,218.4 211.3,220.5 212.5,222.6C213.6,224.7 214.7,226.8 215.9,229.0C217.0,231.1 218.1,233.2 219.2,235.4C220.3,237.5 221.4,239.7 222.5,241.8C223.6,244.0 224.6,246.1 225.7,248.3C226.7,250.5 227.8,252.6 228.8,254.8C229.8,257.0 230.9,259.2 231.9,261.4C232.9,263.6 233.9,265.8 234.9,268.0C235.9,270.2 236.9,272.4 237.8,274.6C238.8,276.8 239.8,279.0 240.7,281.3C241.7,283.5 242.6,285.7 243.6,287.9C244.5,290.2 245.4,292.4 246.3,294.6C247.3,296.9 248.2,299.1 249.1,301.4C250.0,303.6 250.8,305.9 251.7,308.1C252.6,310.4 253.5,312.6 254.4,314.9C255.2,317.1 256.1,319.4 256.9,321.6C257.8,323.9 258.6,326.2 259.5,328.4C260.3,330.7 261.1,332.9 261.9,335.2C262.8,337.5 263.6,339.7 264.4,342.0C265.2,344.3 266.0,346.5 266.8,348.8C267.6,351.0 268.4,353.3 269.2,355.6C269.9,357.8 270.7,360.1 271.5,362.4C272.3,364.6 273.0,366.9 273.8,369.1C274.5,371.4 275.3,373.7 276.1,375.9C276.8,378.2 277.6,380.4 278.3,382.7C279.0,384.9 279.8,387.2 280.5,389.5C281.3,391.7 282.0,394.0 282.8,396.2C283.5,398.5 284.2,400.7 285.0,403.0C285.7,405.2 286.5,407.5 287.2,409.8C288.0,412.0 288.7,414.3 289.5,416.5C290.2,418.8 291.0,421.1 291.7,423.3C292.5,425.6 293.3,427.8 294.0,430.1C294.8,432.4 295.6,434.6 296.4,436.9C297.2,439.2 298.0,441.5 298.8,443.7C299.6,446.0 300.4,448.3 301.2,450.6C302.0,452.9 302.9,455.2 303.7,457.5C304.6,459.8 305.4,462.1 306.3,464.3C307.2,466.6 308.1,468.9 309.1,471.1C310.0,473.4 311.0,475.6 312.1,477.8C313.1,480.0 314.2,482.1 315.4,484.2C316.5,486.3 317.7,488.3 319.0,490.2C320.3,492.2 321.7,494.1 323.2,495.9C324.6,497.7 326.2,499.4 327.8,501.0C329.5,502.6 331.2,504.1 333.1,505.5C334.9,507.0 336.8,508.3 338.8,509.5C340.8,510.8 342.9,512.0 345.0,513.1C347.1,514.2 349.3,515.2 351.5,516.2C353.7,517.2 356.0,518.1 358.3,519.0C360.6,519.8 362.9,520.6 365.2,521.4C367.5,522.2 369.9,522.9 372.2,523.6C374.6,524.3 376.9,524.9 379.3,525.5C381.7,526.1 384.0,526.7 386.4,527.2C388.8,527.8 391.1,528.3 393.5,528.7C395.9,529.2 398.3,529.6 400.7,530.0C403.0,530.4 405.4,530.7 407.8,531.0C410.2,531.3 412.6,531.5 414.9,531.8C417.3,532.0 419.7,532.2 422.1,532.3C424.5,532.5 426.8,532.6 429.2,532.7C431.6,532.9 434.0,533.0 436.4,533.0C438.7,533.1 441.1,533.2 443.5,533.2C445.9,533.3 448.3,533.3 450.7,533.3C453.0,533.4 455.4,533.4 457.8,533.5C460.2,533.5 462.6,533.5 465.0,533.6C467.4,533.6 469.8,533.7 472.2,533.8C474.5,533.8 476.9,533.9 479.3,534.0C481.7,534.1 484.1,534.3 486.5,534.4C488.9,534.5 491.3,534.6 493.7,534.8C496.1,534.9 498.6,535.1 501.0,535.2C503.4,535.4 505.8,535.5 508.2,535.7C510.6,535.8 513.0,536.0 515.4,536.1C517.8,536.2 520.2,536.4 522.6,536.5C525.0,536.6 527.4,536.7 529.8,536.8C532.2,536.9 534.6,537.0 537.0,537.0C539.4,537.1 541.8,537.1 544.2,537.1C546.6,537.1 549.0,537.1 551.4,537.0C553.8,537.0 556.2,536.9 558.6,536.8C561.0,536.7 563.4,536.6 565.8,536.5C568.2,536.3 570.6,536.2 573.0,536.0C575.3,535.8 577.7,535.6 580.1,535.3C582.5,535.1 584.9,534.9 587.2,534.6C589.6,534.3 592.0,534.0 594.4,533.7C596.7,533.4 599.1,533.0 601.5,532.7C603.8,532.3 606.2,531.9 608.6,531.5C610.9,531.1 613.3,530.7 615.6,530.3C618.0,529.9 620.3,529.4 622.7,528.9C625.0,528.5 627.4,528.0 629.7,527.5C632.1,527.0 634.4,526.5 636.7,525.9C639.1,525.4 641.4,524.9 643.8,524.3C646.1,523.7 648.4,523.2 650.7,522.6C653.1,522.0 655.4,521.4 657.7,520.8C660.0,520.1 662.3,519.5 664.7,518.9C667.0,518.2 669.3,517.6 671.6,516.9C673.9,516.2 676.2,515.5 678.5,514.9C680.8,514.2 683.1,513.5 685.4,512.8C687.7,512.0 689.9,511.3 692.2,510.6C694.5,509.9 696.8,509.1 699.1,508.4C701.3,507.6 703.6,506.9 705.9,506.1C708.2,505.3 710.4,504.6 712.7,503.8C714.9,503.0 717.2,502.2 719.5,501.4C721.7,500.6 724.0,499.8 726.2,499.0C728.5,498.2 730.7,497.3 733.0,496.5C735.2,495.7 737.5,494.8 739.7,494.0C742.0,493.1 744.2,492.3 746.4,491.4C748.7,490.6 750.9,489.7 753.1,488.8C755.4,488.0 757.6,487.1 759.8,486.2C762.1,485.3 764.3,484.5 766.5,483.6C768.7,482.7 771.0,481.8 773.2,480.9C775.4,480.0 777.6,479.1 779.9,478.1C782.1,477.2 784.3,476.3 786.5,475.4C788.7,474.5 790.9,473.6 793.2,472.6C795.4,471.7 797.6,470.8 799.8,469.8C802.0,468.9 804.2,468.0 806.4,467.0C808.7,466.1 812.0,464.7 813.1,464.2" stroke="#00aaaa"/>
<path d="M85.2,88.8C86.1,89.4 88.9,91.3 90.7,92.6C92.6,94.0 94.4,95.3 96.2,96.7C98.0,98.0 99.7,99.4 101.5,100.8C103.2,102.2 104.9,103.6 106.6,105.1C108.3,106.5 110.0,108.0 111.7,109.4C113.3,110.9 114.9,112.4 116.6,113.9C118.2,115.5 119.8,117.0 121.4,118.6C122.9,120.1 124.5,121.7 126.0,123.3C127.6,124.8 129.1,126.5 130.6,128.1C132.1,129.7 133.6,131.3 135.1,133.0C136.5,134.6 138.0,136.3 139.4,138.0C140.9,139.7 142.3,141.4 143.7,143.1C145.1,144.8 146.5,146.5 147.9,148.2C149.2,150.0 150.6,151.7 151.9,153.5C153.3,155.2 154.6,157.0 155.9,158.8C157.2,160.6 158.5,162.4 159.8,164.2C161.1,166.0 162.4,167.8 163.6,169.7C164.9,171.5 166.1,173.3 167.3,175.2C168.6,177.0 169.8,178.9 171.0,180.8C172.2,182.6 173.4,184.5 174.6,186.4C175.8,188.3 176.9,190.2 178.1,192.1C179.3,194.0 180.4,195.9 181.5,197.8C182.7,199.7 183.8,201.6 184.9,203.5C186.1,205.5 187.2,207.4 188.3,209.3C189.4,211.3 190.5,213.2 191.5,215.2C192.6,217.1 193.7,219.1 194.8,221.0C195.8,223.0 196.9,224.9 197.9,226.9C199.0,228.9 200.0,230.8 201.0,232.8C202.1,234.8 203.1,236.8 204.1,238.8C205.1,240.7 206.1,242.7 207.1,244.7C208.1,246.7 209.1,248.7 210.1,250.7C211.1,252.7 212.0,254.7 213.0,256.7C214.0,258.7 214.9,260.7 215.9,262.7C216.8,264.7 217.8,266.8 218.7,268.8C219.6,270.8 220.5,272.8 221.4,274.9C222.4,276.9 223.3,278.9 224.2,280.9C225.1,283.0 226.0,285.0 226.8,287.1C227.7,289.1 228.6,291.1 229.5,293.2C230.3,295.2 231.2,297.3 232.0,299.3C232.9,301.4 233.7,303.4 234.6,305.5C235.4,307.5 236.2,309.6 237.1,311.6C237.9,313.7 238.7,315.8 239.5,317.8C240.3,319.9 241.1,321.9 241.9,324.0C242.7,326.1 243.5,328.1 244.3,330.2C245.0,332.3 245.8,334.4 246.6,336.4C247.3,338.5 248.1,340.6 248.9,342.7C249.6,344.7 250.4,346.8 251.1,348.9C251.8,351.0 252.6,353.1 253.3,355.2C254.1,357.2 254.8,359.3 255.5,361.4C256.3,363.5 257.0,365.6 257.7,367.7C258.4,369.8 259.1,371.9 259.9,374.0C260.6,376.1 261.3,378.2 262.0,380.3C262.7,382.4 263.4,384.5 264.1,386.6C264.8,388.7 265.5,390.8 266.3,392.9C267.0,395.0 267.7,397.1 268.4,399.2C269.1,401.3 269.8,403.4 270.5,405.5C271.2,407.7 271.9,409.8 272.6,411.9C273.3,414.0 274.0,416.1 274.7,418.2C275.4,420.4 276.2,422.5 276.9,424.6C277.6,426.7 278.3,428.9 279.0,431.0C279.7,433.1 280.4,435.2 281.2,437.4C281.9,439.5 282.6,441.6 283.3,443.8C284.1,445.9 284.8,448.0 285.5,450.2C286.3,452.3 287.0,454.4 287.8,456.6C288.5,458.7 289.2,460.8 290.0,463.0C290.8,465.1 291.5,467.3 292.3,469.4C293.1,471.5 294.0,473.6 294.8,475.6C295.7,477.7 296.6,479.8 297.5,481.8C298.5,483.8 299.4,485.7 300.5,487.6C301.6,489.5 302.7,491.4 303.9,493.2C305.1,495.0 306.3,496.7 307.7,498.4C309.0,500.1 310.5,501.6 312.0,503.1C313.5,504.6 315.2,506.0 316.9,507.4C318.6,508.7 320.4,510.0 322.3,511.2C324.1,512.4 326.1,513.5 328.0,514.6C330.0,515.8 332.0,516.8 334.0,517.8C336.0,518.9 338.0,519.8 340.0,520.8C342.1,521.7 344.1,522.7 346.2,523.5C348.3,524.4 350.4,525.3 352.5,526.1C354.6,526.9 356.7,527.6 358.9,528.3C361.0,529.1 363.1,529.8 365.3,530.4C367.4,531.1 369.6,531.7 371.8,532.2C373.9,532.8 376.1,533.3 378.3,533.8C380.5,534.3 382.6,534.7 384.8,535.1C387.0,535.5 389.2,535.9 391.4,536.2C393.6,536.5 395.8,536.8 398.0,537.0C400.1,537.3 402.3,537.5 404.5,537.7C406.7,537.9 408.9,538.0 411.1,538.2C413.3,538.3 415.5,538.4 417.7,538.5C419.9,538.6 422.1,538.7 424.3,538.8C426.5,538.9 428.8,538.9 431.0,539.0C433.2,539.1 435.4,539.1 437.6,539.2C439.8,539.2 442.0,539.3 444.2,539.4C446.5,539.4 448.7,539.5 450.9,539.6C453.1,539.6 455.3,539.7 457.6,539.8C459.8,539.9 462.0,540.0 464.2,540.1C466.5,540.2 468.7,540.4 470.9,540.5C473.1,540.6 475.4,540.7 477.6,540.8C479.8,541.0 482.1,541.1 484.3,541.2C486.5,541.4 488.8,541.5 491.0,541.6C493.2,541.7 495.5,541.9 497.7,542.0C499.9,542.1 502.1,542.2 504.4,542.3C506.6,542.4 508.8,542.6 511.1,542.7C513.3,542.8 515.5,542.8 517.8,542.9C520.0,543.0 522.2,543.1 524.4,543.1C526.7,543.2 528.9,543.3 531.1,543.3C533.3,543.3 535.6,543.4 537.8,543.4C540.0,543.4 542.2,543.4 544.5,543.3C546.7,543.3 548.9,543.3 551.1,543.2C553.3,543.2 555.6,543.1 557.8,543.0C560.0,542.9 562.2,542.8 564.4,542.6C566.6,542.5 568.8,542.3 571.0,542.1C573.2,541.9 575.4,541.7 577.6,541.5C579.8,541.3 582.0,541.0 584.2,540.8C586.4,540.5 588.6,540.2 590.8,539.9C593.0,539.6 595.2,539.3 597.4,538.9C599.6,538.6 601.7,538.2 603.9,537.9C606.1,537.5 608.3,537.1 610.5,536.7C612.6,536.3 614.8,535.8 617.0,535.4C619.2,534.9 621.3,534.5 623.5,534.0C625.7,533.5 627.8,533.0 630.0,532.5C632.2,532.0 634.3,531.5 636.5,531.0C638.6,530.4 640.8,529.9 642.9,529.3C645.1,528.8 647.2,528.2 649.4,527.6C651.5,527.0 653.7,526.4 655.8,525.8C658.0,525.2 660.1,524.6 662.2,524.0C664.4,523.3 666.5,522.7 668.6,522.0C670.8,521.4 672.9,520.7 675.0,520.1C677.1,519.4 679.3,518.7 681.4,518.0C683.5,517.4 685.6,516.7 687.7,516.0C689.9,515.3 692.0,514.6 694.1,513.8C696.2,513.1 698.3,512.4 700.4,511.7C702.5,511.0 704.6,510.2 706.7,509.5C708.8,508.8 710.9,508.0 713.0,507.3C715.1,506.5 717.2,505.8 719.2,505.0C721.3,504.3 723.4,503.5 725.5,502.7C727.6,502.0 729.6,501.2 731.7,500.5C733.8,499.7 735.9,498.9 737.9,498.2C740.0,497.4 743.1,496.2 744.1,495.9L746.8,493.9C746.9,493.8 747.1,493.7 747.3,493.6C747.4,493.5 747.6,493.5 747.7,493.4C747.9,493.3 748.1,493.2 748.2,493.1C748.4,493.1 748.5,493.0 748.7,492.9C748.8,492.8 749.0,492.7 749.1,492.7C749.3,492.6 749.4,492.5 749.6,492.4C749.7,492.3 749.9,492.3 750.1,492.2C750.2,492.1 750.4,492.0 750.5,492.0C750.7,491.9 750.8,491.8 751.0,491.7C751.1,491.6 751.3,491.6 751.4,491.5C751.6,491.4 751.8,491.3 751.9,491.3C752.1,491.2 752.2,491.1 752.4,491.0C752.5,490.9 752.7,490.9 752.8,490.8C753.0,490.7 753.2,490.6 753.3,490.6C753.5,490.5 753.6,490.4 753.8,490.3C753.9,490.3 754.1,490.2 754.2,490.1C754.4,490.0 754.6,490.0 754.7,489.9C754.9,489.8 755.0,489.7 755.2,489.7C755.3,489.6 755.5,489.5 755.6,489.4C755.8,489.4 756.0,489.3 756.1,489.2C756.3,489.1 756.4,489.1 756.6,489.0C756.7,488.9 756.9,488.8 757.1,488.8C757.2,488.7 757.4,488.6 757.5,488.5C757.7,488.5 757.8,488.4 758.0,488.3C758.2,488.2 758.3,488.2 758.5,488.1C758.6,488.0 758.8,488.0 758.9,487.9C759.1,487.8 759.2,487.7 759.4,487.7C759.6,487.6 759.7,487.5 759.9,487.4C760.0,487.4 760.2,487.3 760.3,487.2C760.5,487.2 760.7,487.1 760.8,487.0C761.0,486.9 761.1,486.9 761.3,486.8C761.5,486.7 761.6,486.6 761.8,486.6C761.9,486.5 762.1,486.4 762.2,486.4C762.4,486.3 762.6,486.2 762.7,486.1C762.9,486.1 763.0,486.0 763.2,485.9C763.3,485.9 763.5,485.8 763.7,485.7C763.8,485.6 764.0,485.6 764.1,485.5C764.3,485.4 764.5,485.4 764.6,485.3C764.8,485.2 764.9,485.2 765.1,485.1C765.2,485.0 765.4,484.9 765.6,484.9C765.7,484.8 765.9,484.7 766.0,484.7C766.2,484.6 766.4,484.5 766.5,484.5C766.7,484.4 766.8,484.3 767.0,484.2C767.1,484.2 767.3,484.1 767.5,484.0C767.6,484.0 767.8,483.9 767.9,483.8C768.1,483.8 768.3,483.7 768.4,483.6C768.6,483.6 768.7,483.5 768.9,483.4C769.1,483.3 769.2,483.3 769.4,483.2C769.5,483.1 769.7,483.1 769.8,483.0C770.0,482.9 770.2,482.9 770.3,482.8C770.5,482.7 770.6,482.7 770.8,482.6C771.0,482.5 771.1,482.5 771.3,482.4C771.4,482.3 771.6,482.3 771.8,482.2C771.9,482.1 772.1,482.0 772.2,482.0C772.4,481.9 772.6,481.8 772.7,481.8C772.9,481.7 773.0,481.6 773.2,481.6C773.4,481.5 773.5,481.4 773.7,481.4C773.8,481.3 774.0,481.2 774.2,481.2C774.3,481.1 774.5,481.0 774.6,481.0C774.8,480.9 775.0,480.8 775.1,480.8C775.3,480.7 775.4,480.6 775.6,480.6C775.8,480.5 775.9,480.4 776.1,480.4C776.2,480.3 776.4,480.2 776.6,480.2C776.7,480.1 776.9,480.0 777.0,480.0C777.2,479.9 777.4,479.8 777.5,479.8C777.7,479.7 777.8,479.6 778.0,479.6C778.2,479.5 778.3,479.4 778.5,479.4C778.6,479.3 778.8,479.2 779.0,479.2C779.1,479.1 779.3,479.0 779.4,479.0C779.6,478.9 779.8,478.8 779.9,478.8C780.1,478.7 780.2,478.6 780.4,478.6C780.6,478.5 780.7,478.4 780.9,478.4C781.0,478.3 781.2,478.2 781.4,478.2C781.5,478.1 781.7,478.0 781.8,478.0C782.0,477.9 782.2,477.8 782.3,477.8C782.5,477.7 782.6,477.6 782.8,477.6C783.0,477.5 783.1,477.5 783.3,477.4C783.4,477.3 783.6,477.3 783.8,477.2C783.9,477.1 784.1,477.1 784.2,477.0C784.4,476.9 784.6,476.9 784.7,476.8C784.9,476.7 785.1,476.7 785.2,476.6C785.4,476.5 785.5,476.5 785.7,476.4C785.9,476.3 786.0,476.3 786.2,476.2C786.3,476.1 786.5,476.1 786.7,476.0C786.8,475.9 787.0,475.9 787.1,475.8C787.3,475.7 787.5,475.7 787.6,475.6C787.8,475.6 787.9,475.5 788.1,475.4C788.3,475.4 788.4,475.3 788.6,475.2C788.7,475.2 788.9,475.1 789.1,475.0C789.2,475.0 789.4,474.9 789.6,474.8C789.7,474.8 789.9,474.7 790.0,474.6C790.2,474.6 790.4,474.5 790.5,474.4C790.7,474.4 790.8,474.3 791.0,474.2C791.2,474.2 791.3,474.1 791.5,474.1C791.6,474.0 791.8,473.9 792.0,473.9C792.1,473.8 792.3,473.7 792.4,473.7C792.6,473.6 792.8,473.5 792.9,473.5C793.1,473.4 793.2,473.3 793.4,473.3C793.6,473.2 793.7,473.1 793.9,473.1C794.0,473.0 794.2,472.9 794.4,472.9C794.5,472.8 794.7,472.7 794.9,472.7C795.0,472.6 795.2,472.5 795.3,472.5C795.5,472.4 795.7,472.4 795.8,472.3C796.0,472.2 796.1,472.2 796.3,472.1C796.5,472.0 796.6,472.0 796.8,471.9C796.9,471.8 797.1,471.8 797.3,471.7C797.4,471.6 797.6,471.6 797.7,471.5C797.9,471.4 798.1,471.4 798.2,471.3C798.4,471.2 798.5,471.2 798.7,471.1C798.9,471.0 799.0,471.0 799.2,470.9C799.3,470.8 799.5,470.8 799.7,470.7C799.8,470.6 800.0,470.6 800.1,470.5C800.3,470.4 800.5,470.4 800.6,470.3C800.8,470.2 800.9,470.2 801.1,470.1C801.3,470.0 801.4,470.0 801.6,469.9C801.8,469.8 801.9,469.8 802.1,469.7C802.2,469.6 802.4,469.6 802.6,469.5C802.7,469.4 802.9,469.4 803.0,469.3C803.2,469.2 803.4,469.2 803.5,469.1C803.7,469.0 803.8,469.0 804.0,468.9C804.2,468.8 804.3,468.8 804.5,468.7C804.6,468.6 804.8,468.6 804.9,468.5C805.1,468.4 805.3,468.4 805.4,468.3C805.6,468.2 805.7,468.2 805.9,468.1C806.1,468.0 806.2,468.0 806.4,467.9C806.5,467.8 806.7,467.8 806.9,467.7C807.0,467.6 807.2,467.6 807.3,467.5C807.5,467.4 807.7,467.4 807.8,467.3C808.0,467.2 808.1,467.2 808.3,467.1C808.5,467.0 808.6,467.0 808.8,466.9C808.9,466.8 809.1,466.8 809.3,466.7C809.4,466.6 809.6,466.5 809.7,466.5C809.9,466.4 810.1,466.3 810.2,466.3C810.4,466.2 810.5,466.1 810.7,466.1C810.8,466.0 811.0,465.9 811.2,465.9C811.3,465.8 811.5,465.7 811.6,465.7C811.8,465.6 812.0,465.5 812.1,465.4C812.3,465.4 812.4,465.3 812.6,465.2C812.8,465.2 813.0,465.1 813.1,465.0" stroke="#000000"/>
<path d="M85.3,87.2C86.1,87.7 88.5,89.5 90.1,90.6C91.7,91.8 93.3,92.9 94.9,94.1C96.5,95.3 98.0,96.5 99.6,97.7C101.1,98.9 102.6,100.1 104.1,101.4C105.6,102.6 107.1,103.9 108.6,105.1C110.1,106.4 111.5,107.6 113.0,108.9C114.4,110.2 115.9,111.5 117.3,112.8C118.7,114.1 120.1,115.4 121.5,116.7C122.9,118.0 124.3,119.4 125.6,120.7C127.0,122.1 128.3,123.4 129.7,124.8C131.0,126.1 132.3,127.5 133.6,128.9C134.9,130.3 136.2,131.7 137.5,133.1C138.8,134.5 140.1,135.9 141.4,137.3C142.6,138.7 143.9,140.2 145.1,141.6C146.4,143.1 147.6,144.5 148.8,146.0C150.1,147.4 151.3,148.9 152.5,150.4C153.7,151.9 154.9,153.4 156.1,154.9C157.3,156.3 158.5,157.9 159.6,159.4C160.8,160.9 162.0,162.4 163.1,163.9C164.3,165.5 165.4,167.0 166.6,168.5C167.7,170.1 168.9,171.6 170.0,173.2C171.1,174.8 172.3,176.3 173.4,177.9C174.5,179.5 175.6,181.1 176.7,182.6C177.9,184.2 179.0,185.8 180.1,187.4C181.2,189.0 182.3,190.6 183.4,192.3C184.5,193.9 185.6,195.5 186.6,197.1C187.7,198.8 188.8,200.4 189.9,202.0C191.0,203.7 192.1,205.3 193.1,207.0C194.2,208.6 195.3,210.3 196.4,212.0C197.5,213.6 198.5,215.3 199.6,217.0C200.7,218.6 201.8,220.3 202.9,221.9C204.0,223.6 205.1,225.2 206.2,226.8C207.3,228.5 208.5,230.1 209.6,231.6C210.8,233.2 212.0,234.8 213.2,236.3C214.4,237.8 215.7,239.2 216.9,240.7C218.2,242.1 219.5,243.5 220.9,244.8C222.3,246.1 223.7,247.4 225.1,248.6C226.5,249.8 228.0,250.9 229.6,252.0C231.1,253.1 232.7,254.1 234.3,255.0C235.9,255.9 237.6,256.8 239.3,257.6C241.0,258.3 242.8,259.0 244.5,259.6C246.3,260.2 248.1,260.7 249.9,261.1C251.8,261.6 253.7,261.9 255.5,262.1C257.4,262.4 259.3,262.5 261.3,262.6C263.2,262.8 265.1,262.8 267.0,262.9C269.0,262.9 270.9,262.9 272.9,263.0C274.8,263.0 276.7,263.0 278.7,263.0C280.6,262.9 282.5,262.9 284.5,262.9C286.4,262.8 288.3,262.8 290.3,262.7C292.2,262.6 294.1,262.6 296.1,262.5C298.0,262.4 299.9,262.3 301.9,262.2C303.8,262.1 305.7,262.0 307.7,261.8C309.6,261.7 311.5,261.6 313.4,261.4C315.4,261.3 317.3,261.1 319.2,261.0C321.1,260.8 323.1,260.7 325.0,260.5C326.9,260.3 328.9,260.1 330.8,260.0C332.7,259.8 334.6,259.6 336.6,259.4C338.5,259.2 340.4,259.0 342.3,258.8C344.2,258.6 346.2,258.4 348.1,258.2C350.0,258.0 351.9,257.8 353.9,257.5C355.8,257.3 357.7,257.1 359.6,256.9C361.6,256.7 363.5,256.5 365.4,256.2C367.3,256.0 369.2,255.8 371.2,255.6C373.1,255.4 375.0,255.2 376.9,254.9C378.9,254.7 380.8,254.5 382.7,254.3C384.6,254.1 386.5,253.9 388.5,253.7C390.4,253.5 392.3,253.3 394.2,253.1C396.2,252.9 398.1,252.7 400.0,252.5C401.9,252.3 403.8,252.1 405.8,251.9C407.7,251.7 409.6,251.6 411.5,251.4C413.5,251.2 415.4,251.1 417.3,250.9C419.2,250.7 421.2,250.6 423.1,250.4C425.0,250.3 426.9,250.2 428.9,250.0C430.8,249.9 432.7,249.8 434.6,249.6C436.6,249.5 438.5,249.4 440.4,249.3C442.3,249.2 444.3,249.0 446.2,248.9C448.1,248.8 450.1,248.7 452.0,248.6C453.9,248.5 455.8,248.4 457.8,248.3C459.7,248.3 461.6,248.2 463.6,248.1C465.5,248.0 467.4,247.9 469.3,247.9C471.3,247.8 473.2,247.7 475.1,247.6C477.0,247.6 479.0,247.5 480.9,247.4C482.8,247.4 484.8,247.3 486.7,247.3C488.6,247.2 490.6,247.2 492.5,247.1C494.4,247.1 496.3,247.0 498.3,247.0C500.2,246.9 502.1,246.9 504.1,246.8C506.0,246.8 507.9,246.7 509.8,246.7C511.8,246.7 513.7,246.6 515.6,246.6C517.6,246.6 519.5,246.5 521.4,246.5C523.4,246.5 525.3,246.4 527.2,246.4C529.2,246.4 531.1,246.4 533.0,246.3C534.9,246.3 536.9,246.3 538.8,246.3C540.7,246.2 542.7,246.2 544.6,246.2C546.5,246.2 548.5,246.1 550.4,246.1C552.3,246.1 554.2,246.1 556.2,246.1C558.1,246.0 560.0,246.0 562.0,246.0C563.9,246.0 565.8,246.0 567.8,245.9C569.7,245.9 571.6,245.9 573.6,245.9C575.5,245.9 577.4,245.8 579.3,245.8C581.3,245.8 583.2,245.8 585.1,245.8C587.1,245.7 589.0,245.7 590.9,245.7C592.9,245.7 594.8,245.7 596.7,245.6C598.6,245.6 600.6,245.6 602.5,245.6C604.4,245.6 606.4,245.6 608.3,245.5C610.2,245.5 612.2,245.5 614.1,245.5C616.0,245.5 618.0,245.5 619.9,245.5C621.8,245.4 623.7,245.4 625.7,245.4C627.6,245.4 629.5,245.4 631.5,245.4C633.4,245.4 635.3,245.3 637.3,245.3C639.2,245.3 641.1,245.3 643.0,245.3C645.0,245.3 646.9,245.3 648.8,245.3C650.8,245.2 652.7,245.2 654.6,245.2C656.6,245.2 658.5,245.2 660.4,245.2C662.4,245.2 664.3,245.2 666.2,245.2C668.1,245.2 670.1,245.1 672.0,245.1C673.9,245.1 675.9,245.1 677.8,245.1C679.7,245.1 681.7,245.1 683.6,245.1C685.5,245.1 687.4,245.1 689.4,245.1C691.3,245.1 693.2,245.1 695.2,245.1C697.1,245.1 699.0,245.0 701.0,245.0C702.9,245.0 704.8,245.0 706.8,245.0C708.7,245.0 710.6,245.0 712.5,245.0C714.5,245.0 716.4,245.0 718.3,245.0C720.3,245.0 722.2,245.0 724.1,245.0C726.1,245.0 728.0,245.0 729.9,245.0C731.8,245.0 733.8,245.0 735.7,245.0C737.6,245.0 739.6,245.0 741.5,245.0C743.4,245.0 745.4,245.0 747.3,245.0C749.2,245.0 751.2,245.0 753.1,245.0C755.0,245.0 756.9,245.0 758.9,245.0C760.8,245.0 762.7,245.0 764.7,245.0C766.6,245.0 768.5,245.0 770.5,245.0C772.4,245.0 774.3,245.0 776.3,245.1C778.2,245.1 780.1,245.1 782.0,245.1C784.0,245.1 785.9,245.1 787.8,245.1C789.8,245.1 791.7,245.1 793.6,245.1C795.6,245.1 797.5,245.1 799.4,245.1C801.3,245.1 803.3,245.2 805.2,245.2C807.1,245.2 810.0,245.2 811.0,245.2" stroke="#000000" stroke-dasharray="6.1 2.7"/>
<path d="M85.3,88.8C85.5,89.0 86.3,89.5 86.8,89.9C87.3,90.2 87.8,90.6 88.3,90.9C88.8,91.3 89.3,91.6 89.8,92.0C90.3,92.3 90.8,92.7 91.3,93.1C91.8,93.4 92.3,93.8 92.8,94.2C93.3,94.5 93.8,94.9 94.3,95.3C94.8,95.6 95.3,96.0 95.8,96.4C96.3,96.8 96.8,97.2 97.3,97.5C97.8,97.9 98.3,98.3 98.8,98.7C99.3,99.1 99.8,99.5 100.3,99.9C100.8,100.3 101.3,100.7 101.8,101.1C102.3,101.5 102.8,101.9 103.3,102.3C103.8,102.7 104.3,103.2 104.8,103.6C105.3,104.0 105.8,104.4 106.3,104.8C106.8,105.2 107.3,105.7 107.8,106.1C108.3,106.5 108.8,107.0 109.3,107.4C109.8,107.8 110.3,108.3 110.8,108.7C111.3,109.1 111.8,109.6 112.3,110.0C112.8,110.5 113.3,111.0 113.8,111.4C114.3,111.9 114.8,112.3 115.3,112.8C115.8,113.2 116.3,113.7 116.8,114.2C117.3,114.6 117.8,115.1 118.3,115.6C118.8,116.1 119.3,116.6 119.8,117.0C120.3,117.5 120.8,118.0 121.3,118.5C121.8,119.0 122.3,119.5 122.8,120.0C123.3,120.5 123.8,121.0 124.3,121.5C124.8,122.0 125.3,122.5 125.8,123.0C126.3,123.5 126.8,124.1 127.3,124.6C127.8,125.1 128.3,125.6 128.8,126.2C129.3,126.7 129.8,127.2 130.3,127.7C130.8,128.3 131.3,128.8 131.8,129.4C132.3,129.9 132.8,130.5 133.3,131.0C133.8,131.6 134.3,132.1 134.8,132.7C135.3,133.2 135.8,133.8 136.3,134.4C136.8,135.0 137.3,135.5 137.8,136.1C138.3,136.7 138.8,137.2 139.3,137.8C139.8,138.4 140.3,139.0 140.8,139.6C141.3,140.2 141.8,140.8 142.3,141.4C142.8,142.0 143.3,142.6 143.8,143.2C144.3,143.8 144.8,144.4 145.3,145.1C145.8,145.7 146.3,146.3 146.8,146.9C147.3,147.5 147.8,148.2 148.3,148.8C148.8,149.4 149.3,150.1 149.8,150.7C150.3,151.4 150.8,152.0 151.3,152.7C151.8,153.3 152.3,154.0 152.8,154.7C153.3,155.3 153.8,156.0 154.3,156.7C154.8,157.3 155.3,158.0 155.8,158.7C156.3,159.3 156.8,160.0 157.3,160.7C157.8,161.4 158.3,162.1 158.8,162.8C159.3,163.5 159.8,164.2 160.3,164.9C160.8,165.6 161.3,166.4 161.8,167.1C162.3,167.8 162.8,168.5 163.3,169.2C163.8,169.9 164.3,170.7 164.8,171.4C165.3,172.2 165.8,172.9 166.3,173.6C166.8,174.4 167.3,175.1 167.8,175.9C168.3,176.6 168.8,177.4 169.3,178.2C169.8,178.9 170.3,179.7 170.8,180.5C171.3,181.2 171.8,182.0 172.3,182.8C172.8,183.6 173.3,184.4 173.8,185.2C174.3,186.0 174.8,186.8 175.3,187.6C175.8,188.4 176.3,189.2 176.8,190.0C177.3,190.8 177.8,191.6 178.3,192.4C178.8,193.2 179.3,194.1 179.8,194.9C180.3,195.7 180.8,196.5 181.3,197.4C181.8,198.2 182.3,199.1 182.8,199.9C183.3,200.8 183.8,201.6 184.3,202.5C184.8,203.3 185.3,204.2 185.8,205.1C186.3,205.9 186.8,206.8 187.3,207.7C187.8,208.5 188.3,209.4 188.8,210.3C189.3,211.2 189.8,212.1 190.3,213.0C190.8,213.9 191.3,214.7 191.8,215.6C192.3,216.5 192.8,217.5 193.3,218.4C193.8,219.3 194.3,220.2 194.8,221.1C195.3,222.0 195.8,223.0 196.3,223.9C196.8,224.8 197.3,225.7 197.8,226.7C198.3,227.6 198.8,228.6 199.3,229.5C199.8,230.5 200.3,231.4 200.8,232.3C201.3,233.3 201.8,234.3 202.3,235.2C202.8,236.2 203.3,237.2 203.8,238.1C204.3,239.1 204.8,240.1 205.3,241.1C205.8,242.1 206.3,243.1 206.8,244.1C207.3,245.1 207.8,246.1 208.3,247.1C208.8,248.1 209.3,249.1 209.8,250.1C210.3,251.1 210.8,252.2 211.3,253.2C211.8,254.2 212.3,255.2 212.8,256.3C213.3,257.3 213.8,258.4 214.3,259.4C214.8,260.5 215.3,261.5 215.8,262.6C216.3,263.7 216.8,264.7 217.3,265.8C217.8,266.9 218.3,268.0 218.8,269.0C219.3,270.1 219.8,271.2 220.3,272.3C220.8,273.4 221.3,274.5 221.8,275.6C222.3,276.8 222.8,277.9 223.3,279.0C223.8,280.1 224.3,281.3 224.8,282.4C225.3,283.5 225.8,284.7 226.3,285.8C226.8,287.0 227.3,288.1 227.8,289.3C228.3,290.5 228.8,291.6 229.3,292.8C229.8,294.0 230.3,295.2 230.8,296.4C231.3,297.6 231.8,298.7 232.3,299.9C232.8,301.2 233.3,302.4 233.8,303.6C234.3,304.8 234.8,306.0 235.3,307.3C235.8,308.5 236.3,309.8 236.8,311.0C237.3,312.3 237.8,313.5 238.3,314.8C238.8,316.1 239.3,317.4 239.8,318.6C240.3,319.9 240.8,321.2 241.3,322.5C241.8,323.8 242.3,325.1 242.8,326.4C243.3,327.7 243.8,329.0 244.3,330.3C244.8,331.6 245.3,333.0 245.8,334.3C246.3,335.6 246.8,336.9 247.3,338.3C247.8,339.6 248.3,340.9 248.8,342.3C249.3,343.6 249.8,344.9 250.3,346.3C250.8,347.6 251.3,348.9 251.8,350.3C252.3,351.6 252.8,352.9 253.3,354.3C253.8,355.6 254.3,356.9 254.8,358.3C255.3,359.6 255.8,360.9 256.3,362.2C256.8,363.5 257.3,364.8 257.8,366.2C258.3,367.5 258.8,368.8 259.3,370.1C259.8,371.4 259.9,371.5 260.8,373.9C261.7,376.3 263.7,381.4 264.8,384.3C265.8,387.1 266.4,388.7 267.3,390.9C268.1,393.1 268.9,395.3 269.8,397.5C270.6,399.7 271.5,401.9 272.4,404.1C273.2,406.3 274.1,408.6 275.0,410.8C275.9,413.0 276.8,415.2 277.7,417.4C278.7,419.5 279.7,421.7 280.8,423.7C281.8,425.7 282.9,427.7 284.2,429.6C285.4,431.5 286.7,433.2 288.1,434.9C289.5,436.5 291.1,438.0 292.7,439.3C294.4,440.7 296.2,441.9 298.1,442.9C300.0,443.9 302.0,444.8 304.1,445.5C306.1,446.1 308.3,446.6 310.6,447.0C312.8,447.3 315.1,447.5 317.4,447.5C319.8,447.6 322.2,447.5 324.5,447.3C326.9,447.2 329.3,447.0 331.6,446.7C333.9,446.4 336.2,446.1 338.5,445.8C340.8,445.4 343.1,445.0 345.3,444.6C347.6,444.2 349.8,443.8 352.0,443.3C354.3,442.9 356.5,442.4 358.7,441.9C360.9,441.4 363.1,440.9 365.3,440.4C367.6,439.9 369.8,439.4 372.0,438.9C374.2,438.4 376.5,437.8 378.7,437.3C381.0,436.8 383.2,436.3 385.5,435.7C387.7,435.2 390.0,434.7 392.3,434.2C394.5,433.7 396.8,433.2 399.1,432.7C401.3,432.2 403.6,431.8 405.9,431.3C408.2,430.9 410.5,430.4 412.8,430.0C415.0,429.6 417.3,429.2 419.6,428.8C421.9,428.4 424.2,428.1 426.5,427.8C428.8,427.4 431.0,427.1 433.3,426.9C435.6,426.6 437.9,426.4 440.2,426.2C442.5,426.0 444.7,425.8 447.0,425.7C449.3,425.6 451.6,425.5 453.9,425.5C456.1,425.4 458.4,425.5 460.7,425.5C462.9,425.6 465.2,425.7 467.4,425.8C469.7,426.0 471.9,426.2 474.2,426.5C476.4,426.7 478.7,427.0 480.9,427.4C483.1,427.8 485.3,428.2 487.5,428.7C489.8,429.2 492.0,429.8 494.2,430.4C496.4,431.0 498.5,431.7 500.7,432.4C502.9,433.1 505.1,433.9 507.2,434.7C509.4,435.5 511.6,436.3 513.7,437.2C515.8,438.1 518.0,439.0 520.1,440.0C522.2,441.0 524.3,442.0 526.5,443.0C528.6,444.0 530.7,445.1 532.7,446.1C534.8,447.2 536.9,448.3 539.0,449.5C541.0,450.6 543.1,451.7 545.1,452.9C547.2,454.0 549.2,455.1 551.3,456.2C553.4,457.2 555.4,458.2 557.5,459.1C559.6,460.0 561.7,460.9 563.8,461.6C566.0,462.2 568.2,462.8 570.4,463.2C572.6,463.6 574.8,463.8 577.0,463.8C579.3,463.9 581.6,463.8 583.8,463.6C586.0,463.3 588.2,463.0 590.4,462.5C592.6,462.0 594.8,461.3 596.9,460.6C599.0,459.8 601.1,459.0 603.2,458.1C605.2,457.1 607.3,456.1 609.3,455.0C611.4,454.0 613.4,452.8 615.4,451.7C617.4,450.5 619.4,449.3 621.4,448.0C623.4,446.8 625.4,445.5 627.4,444.3C629.4,443.1 631.4,441.8 633.4,440.6C635.4,439.4 637.5,438.2 639.5,437.0C641.6,435.9 643.6,434.8 645.7,433.8C647.8,432.7 649.9,431.8 652.0,430.8C654.2,429.9 656.3,429.0 658.5,428.2C660.6,427.4 662.8,426.6 665.0,425.9C667.1,425.2 669.3,424.6 671.5,424.0C673.8,423.4 676.0,422.8 678.2,422.3C680.4,421.8 682.7,421.4 684.9,421.0C687.2,420.6 689.4,420.3 691.7,420.0C693.9,419.7 696.2,419.5 698.5,419.3C700.7,419.1 703.0,419.0 705.3,418.9C707.6,418.9 709.8,418.8 712.1,418.9C714.4,418.9 716.7,419.0 718.9,419.1C721.2,419.3 723.5,419.4 725.8,419.7C728.0,419.9 730.3,420.2 732.6,420.5C734.8,420.9 737.1,421.3 739.4,421.7C741.6,422.1 743.9,422.6 746.1,423.1C748.3,423.7 750.6,424.2 752.8,424.8C755.0,425.4 757.3,426.0 759.5,426.6C761.7,427.3 764.0,427.9 766.2,428.6C768.4,429.2 770.6,429.9 772.8,430.5C775.1,431.2 777.3,431.8 779.5,432.5C781.7,433.1 784.0,433.7 786.2,434.3C788.4,434.9 790.6,435.5 792.9,436.0C795.1,436.5 797.3,437.1 799.6,437.5C801.8,438.0 804.1,438.4 806.3,438.7C808.6,439.1 812.0,439.5 813.1,439.6" stroke="#ff0000" stroke-dasharray="6.1 2.7"/>
</g>
<g stroke="#000" fill="none">
<line x1="85.2" y1="3" x2="85.2" y2="571.6" stroke-width="2.2"/>
<line x1="70" y1="560.0" x2="827.7" y2="560.0" stroke-width="2.2"/>
<path d="M94.40,560.0 v-4M113.80,560.0 v-4M133.20,560.0 v-7.3M152.60,560.0 v-4M172.00,560.0 v-4M191.40,560.0 v-4M210.80,560.0 v-4M230.20,560.0 v-7.3M249.60,560.0 v-4M269.00,560.0 v-4M288.40,560.0 v-4M307.80,560.0 v-4M327.20,560.0 v-7.3M346.60,560.0 v-4M366.00,560.0 v-4M385.40,560.0 v-4M404.80,560.0 v-4M424.20,560.0 v-7.3M443.60,560.0 v-4M463.00,560.0 v-4M482.40,560.0 v-4M501.80,560.0 v-4M521.20,560.0 v-7.3M540.60,560.0 v-4M560.00,560.0 v-4M579.40,560.0 v-4M598.80,560.0 v-4M618.20,560.0 v-7.3M637.60,560.0 v-4M657.00,560.0 v-4M676.40,560.0 v-4M695.80,560.0 v-4M715.20,560.0 v-7.3M734.60,560.0 v-4M754.00,560.0 v-4M773.40,560.0 v-4M792.80,560.0 v-4M812.20,560.0 v-7.3" stroke-width="2.0"/>
<path d="M85.2,26.50 h7.3M85.2,109.95 h7.3M85.2,84.83 h4M85.2,70.13 h4M85.2,59.71 h4M85.2,51.62 h4M85.2,45.01 h4M85.2,39.43 h4M85.2,34.59 h4M85.2,30.32 h4M85.2,193.40 h7.3M85.2,168.28 h4M85.2,153.58 h4M85.2,143.16 h4M85.2,135.07 h4M85.2,128.46 h4M85.2,122.88 h4M85.2,118.04 h4M85.2,113.77 h4M85.2,276.85 h7.3M85.2,251.73 h4M85.2,237.03 h4M85.2,226.61 h4M85.2,218.52 h4M85.2,211.91 h4M85.2,206.33 h4M85.2,201.49 h4M85.2,197.22 h4M85.2,360.30 h7.3M85.2,335.18 h4M85.2,320.48 h4M85.2,310.06 h4M85.2,301.97 h4M85.2,295.36 h4M85.2,289.78 h4M85.2,284.94 h4M85.2,280.67 h4M85.2,443.75 h7.3M85.2,418.63 h4M85.2,403.93 h4M85.2,393.51 h4M85.2,385.42 h4M85.2,378.81 h4M85.2,373.23 h4M85.2,368.39 h4M85.2,364.12 h4M85.2,527.20 h7.3M85.2,502.08 h4M85.2,487.38 h4M85.2,476.96 h4M85.2,468.87 h4M85.2,462.26 h4M85.2,456.68 h4M85.2,451.84 h4M85.2,447.57 h4M85.2,570.83 h4M85.2,560.41 h4M85.2,552.32 h4M85.2,545.71 h4M85.2,540.13 h4M85.2,535.29 h4M85.2,531.02 h4" stroke-width="2.0"/>
</g>
<g style="opacity:0.999">
<text transform="translate(133.2 583.8) scale(0.965 1)" font-size="21.8" text-anchor="middle">−20</text>
<text transform="translate(230.2 583.8) scale(0.965 1)" font-size="21.8" text-anchor="middle">−<tspan class="o">1</tspan>0</text>
<text transform="translate(327.2 583.8) scale(0.965 1)" font-size="21.8" text-anchor="middle">0</text>
<text transform="translate(424.2 583.8) scale(0.965 1)" font-size="21.8" text-anchor="middle"><tspan class="o">1</tspan>0</text>
<text transform="translate(521.2 583.8) scale(0.965 1)" font-size="21.8" text-anchor="middle">20</text>
<text transform="translate(618.2 583.8) scale(0.965 1)" font-size="21.8" text-anchor="middle">30</text>
<text transform="translate(715.2 583.8) scale(0.965 1)" font-size="21.8" text-anchor="middle">40</text>
<text transform="translate(812.2 583.8) scale(0.965 1)" font-size="21.8" text-anchor="middle">50</text>
<text transform="translate(72.4 33.8) scale(0.965 1)" font-size="21.8" text-anchor="end"><tspan class="o">1</tspan>0</text>
<text x="73.9" y="25.0" font-size="15">0</text>
<text transform="translate(62.9 117.2) scale(0.965 1)" font-size="21.8" text-anchor="end"><tspan class="o">1</tspan>0</text>
<text x="64.4" y="108.5" font-size="15">−<tspan class="o">1</tspan></text>
<text transform="translate(62.9 200.7) scale(0.965 1)" font-size="21.8" text-anchor="end"><tspan class="o">1</tspan>0</text>
<text x="64.4" y="191.9" font-size="15">−2</text>
<text transform="translate(62.9 284.2) scale(0.965 1)" font-size="21.8" text-anchor="end"><tspan class="o">1</tspan>0</text>
<text x="64.4" y="275.4" font-size="15">−3</text>
<text transform="translate(62.9 367.6) scale(0.965 1)" font-size="21.8" text-anchor="end"><tspan class="o">1</tspan>0</text>
<text x="64.4" y="358.8" font-size="15">−4</text>
<text transform="translate(62.9 451.1) scale(0.965 1)" font-size="21.8" text-anchor="end"><tspan class="o">1</tspan>0</text>
<text x="64.4" y="442.2" font-size="15">−5</text>
<text transform="translate(62.9 534.5) scale(0.965 1)" font-size="21.8" text-anchor="end"><tspan class="o">1</tspan>0</text>
<text x="64.4" y="525.7" font-size="15">−6</text>
<line x1="636.5" y1="41.0" x2="713.5" y2="41.0" stroke="#0000ff" stroke-width="1.8"/>
<text x="725.5" y="45.1" font-size="21.7"><tspan font-style="italic">N</tspan><tspan dx="6.5" dy="1.2">=</tspan><tspan dx="6.2" dy="-1.2">0!!</tspan></text>
<line x1="636.5" y1="78.3" x2="713.5" y2="78.3" stroke="#ff0000" stroke-width="1.8"/>
<text x="725.5" y="82.4" font-size="21.7"><tspan font-style="italic">N</tspan><tspan dx="6.5" dy="1.2">=</tspan><tspan dx="6.2" dy="-1.2"><tspan class="o">1</tspan>!!</tspan></text>
<line x1="636.5" y1="115.6" x2="713.5" y2="115.6" stroke="#00aa00" stroke-width="1.8"/>
<text x="725.5" y="119.7" font-size="21.7"><tspan font-style="italic">N</tspan><tspan dx="6.5" dy="1.2">=</tspan><tspan dx="6.2" dy="-1.2">2!!</tspan></text>
<line x1="636.5" y1="153.0" x2="713.5" y2="153.0" stroke="#800080" stroke-width="1.8"/>
<text x="725.5" y="157.1" font-size="21.7"><tspan font-style="italic">N</tspan><tspan dx="6.5" dy="1.2">=</tspan><tspan dx="6.2" dy="-1.2">3!!</tspan></text>
<line x1="636.5" y1="190.3" x2="713.5" y2="190.3" stroke="#ff8000" stroke-width="1.8"/>
<text x="725.5" y="194.4" font-size="21.7"><tspan font-style="italic">N</tspan><tspan dx="6.5" dy="1.2">=</tspan><tspan dx="6.2" dy="-1.2">4!!</tspan></text>
<line x1="636.5" y1="227.6" x2="713.5" y2="227.6" stroke="#0000aa" stroke-width="1.8"/>
<text x="725.5" y="231.7" font-size="21.7"><tspan font-style="italic">N</tspan><tspan dx="6.5" dy="1.2">=</tspan><tspan dx="6.2" dy="-1.2">5!!</tspan></text>
<line x1="636.5" y1="264.9" x2="713.5" y2="264.9" stroke="#00aaaa" stroke-width="1.8"/>
<text x="725.5" y="269.0" font-size="21.7"><tspan font-style="italic">N</tspan><tspan dx="6.5" dy="1.2">=</tspan><tspan dx="6.2" dy="-1.2">6!!</tspan></text>
<line x1="636.5" y1="302.2" x2="713.5" y2="302.2" stroke="#000000" stroke-width="1.8"/>
<text x="725.5" y="306.3" font-size="21.7"><tspan font-style="italic">N</tspan><tspan dx="6.5" dy="1.2">=</tspan><tspan dx="6.2" dy="-1.2">7!!</tspan></text>
<line x1="636.5" y1="339.6" x2="713.5" y2="339.6" stroke="#000000" stroke-width="1.8" stroke-dasharray="6.1 2.7"/>
<text x="725.5" y="343.7" font-size="21.7"><tspan font-style="italic">N</tspan><tspan dx="6.5" dy="1.2">=</tspan><tspan dx="6.2" dy="-1.2">7</tspan></text>
<line x1="636.5" y1="376.9" x2="713.5" y2="376.9" stroke="#ff0000" stroke-width="1.8" stroke-dasharray="6.1 2.7"/>
<text x="725.5" y="381.0" font-size="21.7"><tspan font-style="italic">N</tspan><tspan dx="6.5" dy="1.2">=</tspan><tspan dx="6.2" dy="-1.2">7!</tspan></text>
<g fill="#000" stroke="#000" stroke-width="0.4" vector-effect="non-scaling-stroke"><path transform="translate(224.65 583.80) scale(0.01027 0.01064)" d="M515,0V-1237L197,-1010V-1180L530,-1409H696V0Z" vector-effect="non-scaling-stroke"/><path transform="translate(412.51 583.80) scale(0.01027 0.01064)" d="M515,0V-1237L197,-1010V-1180L530,-1409H696V0Z" vector-effect="non-scaling-stroke"/><path transform="translate(49.02 33.80) scale(0.01027 0.01064)" d="M515,0V-1237L197,-1010V-1180L530,-1409H696V0Z" vector-effect="non-scaling-stroke"/><path transform="translate(39.52 117.20) scale(0.01027 0.01064)" d="M515,0V-1237L197,-1010V-1180L530,-1409H696V0Z" vector-effect="non-scaling-stroke"/><path transform="translate(73.17 108.50) scale(0.00732 0.00732)" d="M515,0V-1237L197,-1010V-1180L530,-1409H696V0Z" vector-effect="non-scaling-stroke"/><path transform="translate(39.52 200.70) scale(0.01027 0.01064)" d="M515,0V-1237L197,-1010V-1180L530,-1409H696V0Z" vector-effect="non-scaling-stroke"/><path transform="translate(39.52 284.20) scale(0.01027 0.01064)" d="M515,0V-1237L197,-1010V-1180L530,-1409H696V0Z" vector-effect="non-scaling-stroke"/><path transform="translate(39.52 367.60) scale(0.01027 0.01064)" d="M515,0V-1237L197,-1010V-1180L530,-1409H696V0Z" vector-effect="non-scaling-stroke"/><path transform="translate(39.52 451.10) scale(0.01027 0.01064)" d="M515,0V-1237L197,-1010V-1180L530,-1409H696V0Z" vector-effect="non-scaling-stroke"/><path transform="translate(39.52 534.50) scale(0.01027 0.01064)" d="M515,0V-1237L197,-1010V-1180L530,-1409H696V0Z" vector-effect="non-scaling-stroke"/><path transform="translate(766.54 82.40) scale(0.01060 0.01060)" d="M515,0V-1237L197,-1010V-1180L530,-1409H696V0Z" vector-effect="non-scaling-stroke"/></g>
<g id="xlabel">
<path d="M368.9,593.6 L365.7,606.2 Q364.7,610.3 368.6,610.3 L370.8,610.3 Q372.8,610.3 374.2,608.9 M363.0,598.4 H374.5" fill="none" stroke="#000" stroke-width="1.8"/>
<path transform="translate(43.1 0)" d="M368.9,593.6 L365.7,606.2 Q364.7,610.3 368.6,610.3 L370.8,610.3 Q372.8,610.3 374.2,608.9 M363.0,598.4 H374.5" fill="none" stroke="#000" stroke-width="1.8"/>
<path d="M375.2,605.9 H380.2 V613.9" fill="none" stroke="#000" stroke-width="1.8"/><circle cx="380.1" cy="601.9" r="1.35"/>
<path d="M387.8,604.1 H398.7" stroke="#000" stroke-width="1.15"/>
<text style="stroke:none" x="417.2" y="613.7" font-size="19.3" textLength="44" lengthAdjust="spacing">peak</text>
<path d="M474,594.9 h-4 v19.6 h4 M499.5,594.9 h4 v19.6 h-4" fill="none" stroke="#555" stroke-width="1.1"/>
<text style="stroke:none" x="479.6" y="610.1" font-size="23" font-style="italic" textLength="16.6" lengthAdjust="spacingAndGlyphs">M</text>
</g>
</g>
<g id="ylabel" fill="none" stroke="#000" stroke-linecap="round" stroke-linejoin="round">
<path d="M3.1,252.6 Q16.3,242 29.5,252.4" stroke-width="1"/>
<path d="M3.1,285.3 Q16.3,295.5 29.5,285.3" stroke-width="1"/>
<path d="M0,269.8 L23.2,275.8" stroke-width="2.7" stroke-linecap="butt"/>
<path d="M11,272.3 C8.5,269 6.8,265 8.4,262.6 C9.6,260.6 11.5,260.9 14,261.6 L23.2,264.2" stroke-width="2.6" stroke-linecap="butt"/>
<path d="M24.6,351.6 C22,346 12,341 4.3,337.4 C10,336.3 16,335.4 19.4,335.7 L23.6,337.4 M19.4,335.7 L4.3,319.7 Q12,324.3 23.6,325.3" stroke-width="1.2"/>
</g>
</svg></body></html>
